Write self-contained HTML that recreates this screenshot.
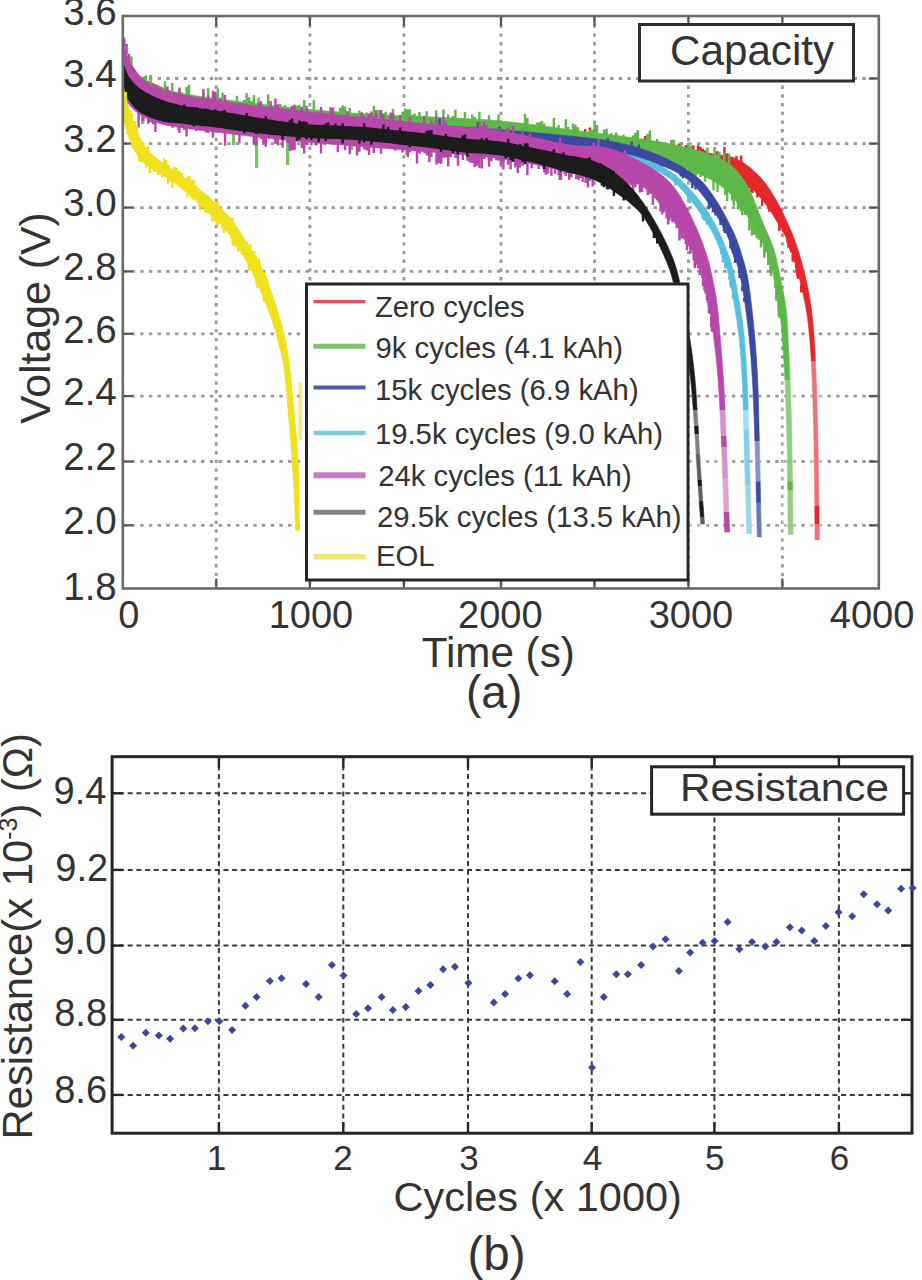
<!DOCTYPE html>
<html><head><meta charset="utf-8"><style>html,body{margin:0;padding:0;background:#fff;width:922px;height:1280px;overflow:hidden}svg{display:block}</style></head>
<body><svg width="922" height="1280" viewBox="0 0 922 1280"><defs><filter id="soft2" x="-2%" y="-2%" width="104%" height="104%"><feGaussianBlur stdDeviation="0.5"/></filter></defs>
<g id="top" filter="url(#soft2)">
<line x1="216.2" y1="16.0" x2="216.2" y2="588.5" stroke="#9a9a9a" stroke-width="2.8" stroke-dasharray="3.4 5.3"/>
<line x1="309.9" y1="16.0" x2="309.9" y2="588.5" stroke="#9a9a9a" stroke-width="2.8" stroke-dasharray="3.4 5.3"/>
<line x1="403.9" y1="16.0" x2="403.9" y2="588.5" stroke="#9a9a9a" stroke-width="2.8" stroke-dasharray="3.4 5.3"/>
<line x1="501.0" y1="16.0" x2="501.0" y2="588.5" stroke="#9a9a9a" stroke-width="2.8" stroke-dasharray="3.4 5.3"/>
<line x1="594.5" y1="16.0" x2="594.5" y2="588.5" stroke="#9a9a9a" stroke-width="2.8" stroke-dasharray="3.4 5.3"/>
<line x1="688.4" y1="16.0" x2="688.4" y2="588.5" stroke="#9a9a9a" stroke-width="2.8" stroke-dasharray="3.4 5.3"/>
<line x1="782.4" y1="16.0" x2="782.4" y2="588.5" stroke="#9a9a9a" stroke-width="2.8" stroke-dasharray="3.4 5.3"/>
<line x1="122.8" y1="78.5" x2="878.8" y2="78.5" stroke="#9a9a9a" stroke-width="2.8" stroke-dasharray="3.4 5.3"/>
<line x1="122.8" y1="143.6" x2="878.8" y2="143.6" stroke="#9a9a9a" stroke-width="2.8" stroke-dasharray="3.4 5.3"/>
<line x1="122.8" y1="207.6" x2="878.8" y2="207.6" stroke="#9a9a9a" stroke-width="2.8" stroke-dasharray="3.4 5.3"/>
<line x1="122.8" y1="271.4" x2="878.8" y2="271.4" stroke="#9a9a9a" stroke-width="2.8" stroke-dasharray="3.4 5.3"/>
<line x1="122.8" y1="333.8" x2="878.8" y2="333.8" stroke="#9a9a9a" stroke-width="2.8" stroke-dasharray="3.4 5.3"/>
<line x1="122.8" y1="396.1" x2="878.8" y2="396.1" stroke="#9a9a9a" stroke-width="2.8" stroke-dasharray="3.4 5.3"/>
<line x1="122.8" y1="461.5" x2="878.8" y2="461.5" stroke="#9a9a9a" stroke-width="2.8" stroke-dasharray="3.4 5.3"/>
<line x1="122.8" y1="525.3" x2="878.8" y2="525.3" stroke="#9a9a9a" stroke-width="2.8" stroke-dasharray="3.4 5.3"/>
<line x1="216.2" y1="588.5" x2="216.2" y2="578.5" stroke="#555" stroke-width="2.2"/>
<line x1="216.2" y1="16.0" x2="216.2" y2="26.0" stroke="#555" stroke-width="2.2"/>
<line x1="309.9" y1="588.5" x2="309.9" y2="578.5" stroke="#555" stroke-width="2.2"/>
<line x1="309.9" y1="16.0" x2="309.9" y2="26.0" stroke="#555" stroke-width="2.2"/>
<line x1="403.9" y1="588.5" x2="403.9" y2="578.5" stroke="#555" stroke-width="2.2"/>
<line x1="403.9" y1="16.0" x2="403.9" y2="26.0" stroke="#555" stroke-width="2.2"/>
<line x1="501.0" y1="588.5" x2="501.0" y2="578.5" stroke="#555" stroke-width="2.2"/>
<line x1="501.0" y1="16.0" x2="501.0" y2="26.0" stroke="#555" stroke-width="2.2"/>
<line x1="594.5" y1="588.5" x2="594.5" y2="578.5" stroke="#555" stroke-width="2.2"/>
<line x1="594.5" y1="16.0" x2="594.5" y2="26.0" stroke="#555" stroke-width="2.2"/>
<line x1="688.4" y1="588.5" x2="688.4" y2="578.5" stroke="#555" stroke-width="2.2"/>
<line x1="688.4" y1="16.0" x2="688.4" y2="26.0" stroke="#555" stroke-width="2.2"/>
<line x1="782.4" y1="588.5" x2="782.4" y2="578.5" stroke="#555" stroke-width="2.2"/>
<line x1="782.4" y1="16.0" x2="782.4" y2="26.0" stroke="#555" stroke-width="2.2"/>
<line x1="122.8" y1="78.5" x2="132.8" y2="78.5" stroke="#555" stroke-width="2.2"/>
<line x1="878.8" y1="78.5" x2="868.8" y2="78.5" stroke="#555" stroke-width="2.2"/>
<line x1="122.8" y1="143.6" x2="132.8" y2="143.6" stroke="#555" stroke-width="2.2"/>
<line x1="878.8" y1="143.6" x2="868.8" y2="143.6" stroke="#555" stroke-width="2.2"/>
<line x1="122.8" y1="207.6" x2="132.8" y2="207.6" stroke="#555" stroke-width="2.2"/>
<line x1="878.8" y1="207.6" x2="868.8" y2="207.6" stroke="#555" stroke-width="2.2"/>
<line x1="122.8" y1="271.4" x2="132.8" y2="271.4" stroke="#555" stroke-width="2.2"/>
<line x1="878.8" y1="271.4" x2="868.8" y2="271.4" stroke="#555" stroke-width="2.2"/>
<line x1="122.8" y1="333.8" x2="132.8" y2="333.8" stroke="#555" stroke-width="2.2"/>
<line x1="878.8" y1="333.8" x2="868.8" y2="333.8" stroke="#555" stroke-width="2.2"/>
<line x1="122.8" y1="396.1" x2="132.8" y2="396.1" stroke="#555" stroke-width="2.2"/>
<line x1="878.8" y1="396.1" x2="868.8" y2="396.1" stroke="#555" stroke-width="2.2"/>
<line x1="122.8" y1="461.5" x2="132.8" y2="461.5" stroke="#555" stroke-width="2.2"/>
<line x1="878.8" y1="461.5" x2="868.8" y2="461.5" stroke="#555" stroke-width="2.2"/>
<line x1="122.8" y1="525.3" x2="132.8" y2="525.3" stroke="#555" stroke-width="2.2"/>
<line x1="878.8" y1="525.3" x2="868.8" y2="525.3" stroke="#555" stroke-width="2.2"/>
</g>
<defs><filter id="soft" x="-5%" y="-5%" width="110%" height="110%"><feGaussianBlur stdDeviation="0.55"/></filter></defs>
<g id="curves" filter="url(#soft)">
<path d="M123.0,48.0 L124.2,50.8 L125.3,53.7 L126.4,56.6 L127.5,59.4 L128.8,62.2 L130.2,65.0 L131.9,67.9 L133.6,70.8 L135.5,73.7 L137.6,76.5 L139.9,79.1 L142.5,81.5 L146.1,84.1 L150.1,86.4 L154.4,88.5 L159.2,90.5 L164.2,92.3 L169.5,94.0 L177.4,96.2 L186.1,98.0 L195.4,99.6 L205.2,101.0 L215.3,102.4 L225.8,103.8 L239.5,105.5 L254.2,107.1 L269.4,108.6 L285.1,110.1 L300.8,111.4 L316.5,112.8 L333.2,114.1 L350.3,115.3 L367.6,116.4 L384.7,117.5 L401.5,118.5 L417.5,119.5 L430.8,120.3 L444.0,121.1 L456.8,121.8 L469.2,122.6 L481.1,123.4 L492.5,124.2 L501.1,125.0 L509.3,125.9 L517.2,126.8 L524.9,127.7 L532.4,128.6 L540.0,129.5 L546.8,130.4 L553.5,131.2 L560.0,132.1 L566.6,133.0 L573.2,133.9 L580.0,134.8 L587.5,135.6 L595.1,136.5 L602.8,137.3 L610.6,138.2 L618.3,139.1 L626.0,140.0 L633.8,141.0 L641.7,142.0 L649.6,143.0 L657.4,144.1 L664.9,145.2 L672.0,146.2 L677.4,147.1 L682.7,148.1 L687.8,149.0 L692.7,149.9 L697.4,150.8 L701.8,151.6 L705.1,152.2 L708.1,152.7 L711.1,153.2 L713.9,153.7 L716.7,154.2 L719.4,154.6 L721.6,155.0 L723.7,155.3 L725.8,155.6 L727.8,155.9 L729.8,156.3 L731.8,156.9 L733.7,157.6 L735.5,158.4 L737.3,159.2 L739.1,160.2 L740.9,161.2 L742.7,162.3 L744.8,163.7 L746.9,165.2 L749.0,166.8 L751.1,168.5 L753.1,170.2 L755.0,171.9 L756.8,173.6 L758.6,175.4 L760.4,177.2 L762.0,179.1 L763.6,180.9 L765.1,182.8 L766.5,184.6 L767.8,186.4 L769.0,188.2 L770.2,190.1 L771.4,191.9 L772.5,193.8 L773.6,195.6 L774.7,197.4 L775.8,199.2 L776.8,201.0 L777.8,202.9 L778.8,204.7 L779.8,206.5 L780.7,208.3 L781.6,210.1 L782.5,212.0 L783.4,213.8 L784.3,215.6 L785.1,217.4 L786.0,219.3 L786.8,221.1 L787.6,222.9 L788.4,224.7 L789.2,226.6 L790.0,228.4 L790.8,230.2 L791.6,232.0 L792.4,233.9 L793.1,235.7 L793.8,237.5 L794.5,239.3 L795.2,241.2 L795.9,243.0 L796.5,244.8 L797.1,246.6 L797.7,248.5 L798.3,250.3 L798.8,252.1 L799.4,253.9 L799.9,255.8 L800.5,257.6 L801.0,259.4 L801.5,261.3 L802.0,263.1 L802.5,264.9 L803.0,266.7 L803.5,268.6 L804.0,270.4 L804.4,272.1 L804.8,273.8 L805.2,275.5 L805.6,277.2 L806.0,279.0 L806.4,280.8 L806.8,282.8 L807.3,284.8 L807.7,286.8 L808.2,288.9 L808.6,291.1 L809.0,293.4 L809.6,296.7 L810.2,300.1 L810.7,303.6 L811.2,307.3 L811.7,311.1 L812.2,315.0 L812.7,319.7 L813.2,324.5 L813.6,329.5 L814.0,334.7 L814.4,339.8 L814.7,345.0 L815.0,350.7 L815.3,356.3 L815.6,362.1 L815.8,368.0 L816.1,373.9 L816.3,380.1 L816.6,387.1 L816.8,394.3 L817.0,401.6 L817.2,409.1 L817.4,416.7 L817.6,424.4 L817.8,433.3 L818.0,442.4 L818.2,451.7 L818.4,461.1 L818.5,470.5 L818.7,480.0 L818.8,489.9 L819.0,499.8 L819.1,509.9 L819.2,519.9 L819.4,530.0 L819.5,540.0 L815.0,540.0 L814.9,530.0 L814.8,519.9 L814.7,509.9 L814.6,499.8 L814.5,489.9 L814.4,480.0 L814.3,470.5 L814.2,461.1 L814.0,451.7 L813.9,442.4 L813.7,433.3 L813.5,424.4 L813.3,416.7 L813.1,409.1 L812.9,401.6 L812.6,394.3 L812.3,387.1 L812.1,380.1 L811.8,373.9 L811.5,368.0 L811.2,362.1 L810.9,356.3 L810.5,350.7 L810.1,345.0 L809.7,339.8 L809.2,334.7 L808.7,329.5 L808.2,324.5 L807.6,319.7 L807.0,315.0 L806.3,311.1 L805.7,307.3 L805.0,303.6 L804.3,300.1 L803.6,296.7 L802.9,293.4 L802.4,291.1 L801.9,288.9 L801.3,286.8 L800.8,284.8 L800.3,282.8 L799.8,280.8 L799.4,279.0 L799.0,277.2 L798.6,275.5 L798.2,273.8 L797.8,272.1 L797.3,270.4 L796.9,268.6 L796.4,266.7 L795.9,264.9 L795.4,263.1 L794.9,261.2 L794.4,259.4 L793.8,257.6 L793.2,255.7 L792.7,253.9 L792.0,252.1 L791.4,250.3 L790.8,248.5 L790.1,246.7 L789.4,245.0 L788.7,243.3 L787.9,241.7 L787.2,240.0 L786.4,238.4 L785.6,236.8 L784.8,235.3 L783.9,233.8 L783.1,232.4 L782.2,230.9 L781.4,229.4 L780.5,227.8 L779.6,226.3 L778.7,224.7 L777.7,223.1 L776.8,221.6 L775.9,220.0 L774.9,218.4 L774.0,216.8 L773.0,215.2 L772.0,213.6 L771.0,212.0 L770.0,210.5 L769.0,209.1 L768.0,207.7 L767.0,206.3 L766.0,205.0 L765.0,203.6 L763.9,202.2 L762.8,200.8 L761.6,199.4 L760.4,197.9 L759.2,196.4 L757.9,195.0 L756.6,193.5 L755.1,191.8 L753.7,190.2 L752.1,188.5 L750.6,186.8 L749.0,185.1 L747.4,183.5 L745.9,182.0 L744.3,180.5 L742.7,179.1 L741.1,177.7 L739.5,176.3 L738.0,175.0 L736.7,173.8 L735.5,172.6 L734.3,171.4 L733.1,170.3 L731.9,169.2 L730.5,168.2 L729.0,167.3 L727.6,166.5 L726.0,165.7 L724.4,164.9 L722.5,164.2 L720.2,163.5 L714.7,162.1 L708.0,160.8 L700.3,159.6 L691.9,158.5 L683.0,157.3 L673.8,156.0 L658.6,153.8 L641.9,151.5 L623.8,149.1 L605.1,146.7 L586.0,144.4 L567.0,142.2 L545.7,140.1 L523.8,138.0 L501.4,136.1 L478.9,134.3 L456.6,132.6 L434.8,131.0 L414.2,129.7 L393.8,128.8 L373.5,127.9 L353.4,126.9 L333.7,125.6 L314.2,123.8 L296.5,121.7 L279.0,119.5 L261.8,117.1 L244.8,114.2 L228.1,110.7 L211.8,106.5 L196.4,101.5 L181.5,95.8 L166.8,89.5 L152.2,82.9 L137.7,76.3 L123.0,70.0Z" fill="#e5262b" opacity="1" stroke="#e5262b" stroke-width="0.4" stroke-linejoin="round"/>
<path d="M801.2,289.1h2.4v3.5h-2.4zM800.0,284.4h2.4v7.9h-2.4zM797.2,272.8h2.4v5.3h-2.4zM796.7,270.4h2.4v8.7h-2.4zM796.1,268.1h2.4v7.9h-2.4zM795.5,265.8h2.4v6.9h-2.4zM794.9,263.5h2.4v5.0h-2.4zM793.6,258.8h2.4v3.6h-2.4zM791.5,252.0h2.4v9.4h-2.4zM789.9,247.4h2.4v5.2h-2.4zM789.0,245.2h2.4v4.5h-2.4zM787.2,240.7h2.4v7.0h-2.4zM786.2,238.6h2.4v3.9h-2.4zM778.1,223.8h2.4v7.2h-2.4zM768.1,207.5h2.4v4.2h-2.4zM760.9,197.9h2.4v8.0h-2.4zM756.2,192.4h2.4v5.2h-2.4zM751.4,187.0h2.4v5.9h-2.4zM749.8,185.2h2.4v7.0h-2.4zM748.2,183.5h2.4v4.4h-2.4zM746.5,181.8h2.4v6.5h-2.4zM744.8,180.1h2.4v5.4h-2.4zM743.0,178.5h2.4v4.4h-2.4zM734.1,170.4h2.4v8.8h-2.4zM730.6,167.2h2.4v7.4h-2.4zM726.6,164.6h2.4v4.3h-2.4zM722.2,162.6h2.4v4.2h-2.4zM719.9,161.8h2.4v3.5h-2.4zM708.3,159.1h2.4v4.6h-2.4z" fill="#e5262b" opacity="1"/>
<path d="M574.4,130.4h2.4v6.9h-2.4zM581.6,132.6h2.4v5.5h-2.4zM584.0,128.9h2.4v9.5h-2.4zM588.8,127.6h2.4v11.3h-2.4zM598.4,135.3h2.4v4.5h-2.4zM603.2,135.3h2.4v5.0h-2.4zM605.6,136.0h2.4v4.5h-2.4zM641.6,139.2h2.4v5.5h-2.4zM644.0,135.9h2.4v9.1h-2.4zM658.4,141.7h2.4v5.1h-2.4zM670.4,140.5h2.4v7.8h-2.4zM677.6,143.5h2.4v5.7h-2.4zM684.8,145.0h2.4v5.2h-2.4zM687.2,146.4h2.4v4.6h-2.4zM692.0,145.2h2.4v7.3h-2.4zM696.8,145.3h2.4v8.7h-2.4zM699.2,146.8h2.4v8.0h-2.4zM701.6,149.0h2.4v6.3h-2.4zM704.0,150.2h2.4v5.4h-2.4zM716.0,151.3h2.4v6.1h-2.4zM723.2,147.1h2.4v11.4h-2.4zM725.6,153.2h2.4v5.3h-2.4zM735.2,156.0h2.4v4.6h-2.4zM740.0,155.4h2.4v7.6h-2.4z" fill="#e5262b" opacity="1"/>
<path d="M123.0,44.0 L124.2,47.1 L125.2,50.2 L126.3,53.3 L127.5,56.3 L128.8,59.3 L130.2,62.2 L131.9,65.2 L133.6,68.1 L135.5,71.0 L137.5,73.8 L139.9,76.4 L142.5,78.8 L146.1,81.3 L150.1,83.5 L154.5,85.4 L159.2,87.2 L164.2,88.9 L169.5,90.5 L177.5,92.5 L186.4,94.3 L195.8,95.7 L205.7,97.1 L215.7,98.4 L225.8,99.8 L237.3,101.3 L249.4,102.8 L261.6,104.3 L274.0,105.7 L286.3,107.0 L298.2,108.2 L309.3,109.3 L320.2,110.4 L331.1,111.3 L341.8,112.2 L352.6,113.0 L363.5,113.8 L374.5,114.4 L385.4,114.9 L396.4,115.4 L407.4,115.8 L418.4,116.2 L429.2,116.8 L440.0,117.3 L450.8,117.8 L461.5,118.3 L472.1,118.9 L482.5,119.5 L492.5,120.2 L500.9,121.0 L509.0,121.8 L516.9,122.7 L524.7,123.6 L532.4,124.6 L540.0,125.5 L546.8,126.4 L553.5,127.3 L560.0,128.2 L566.6,129.2 L573.2,130.1 L580.0,131.0 L587.5,131.9 L595.1,132.9 L602.8,133.8 L610.6,134.7 L618.3,135.7 L626.0,136.8 L633.8,137.9 L641.8,139.0 L649.7,140.2 L657.5,141.5 L665.0,142.8 L672.0,144.2 L677.2,145.3 L682.2,146.4 L687.1,147.6 L691.7,148.9 L696.1,150.1 L700.2,151.3 L703.1,152.2 L705.9,153.1 L708.5,154.0 L711.0,154.9 L713.5,155.9 L715.9,156.9 L718.2,157.9 L720.4,158.9 L722.6,159.9 L724.7,161.0 L726.8,162.2 L728.8,163.5 L730.5,164.8 L732.2,166.2 L733.8,167.7 L735.4,169.3 L736.9,170.8 L738.4,172.4 L739.7,174.1 L741.0,175.8 L742.3,177.5 L743.5,179.3 L744.6,181.1 L745.7,182.9 L746.8,184.6 L747.8,186.4 L748.7,188.3 L749.7,190.1 L750.5,191.9 L751.4,193.8 L752.2,195.6 L753.0,197.4 L753.7,199.2 L754.4,201.0 L755.1,202.9 L755.8,204.7 L756.5,206.5 L757.2,208.3 L757.9,210.2 L758.5,212.0 L759.2,213.8 L760.0,215.6 L760.7,217.5 L761.5,219.3 L762.3,221.1 L763.0,222.9 L763.8,224.8 L764.6,226.6 L765.4,228.4 L766.2,230.2 L767.0,232.0 L767.8,233.9 L768.6,235.7 L769.4,237.5 L770.1,239.3 L770.8,241.2 L771.6,243.0 L772.2,244.8 L772.9,246.6 L773.5,248.5 L774.1,250.3 L774.6,252.1 L775.1,253.9 L775.6,255.8 L776.1,257.6 L776.5,259.4 L777.0,261.2 L777.4,263.1 L777.7,264.9 L778.1,266.7 L778.5,268.5 L778.9,270.4 L779.3,272.3 L779.7,274.2 L780.0,276.1 L780.4,278.0 L780.8,280.0 L781.2,282.0 L781.7,284.2 L782.2,286.5 L782.7,288.7 L783.2,291.1 L783.7,293.5 L784.1,295.9 L784.6,299.1 L785.1,302.3 L785.6,305.6 L786.0,309.1 L786.5,312.6 L786.8,316.2 L787.2,320.7 L787.5,325.4 L787.8,330.1 L788.0,335.0 L788.2,340.0 L788.4,345.0 L788.7,350.6 L789.0,356.1 L789.2,361.8 L789.5,367.6 L789.7,373.7 L790.0,380.0 L790.3,388.7 L790.7,397.8 L791.0,407.2 L791.3,417.1 L791.6,427.3 L791.8,438.0 L792.1,452.7 L792.3,468.4 L792.5,484.7 L792.7,501.4 L792.9,518.1 L793.1,534.5 L788.2,534.5 L788.0,518.1 L787.9,501.4 L787.7,484.7 L787.5,468.4 L787.3,452.7 L787.0,438.0 L786.7,427.3 L786.4,417.1 L786.1,407.2 L785.7,397.8 L785.3,388.7 L784.9,380.1 L784.6,373.7 L784.3,367.6 L783.9,361.8 L783.5,356.2 L783.1,350.6 L782.7,345.0 L782.4,339.8 L782.0,334.7 L781.6,329.5 L781.2,324.5 L780.7,319.7 L780.2,315.0 L779.7,311.1 L779.2,307.3 L778.6,303.6 L778.0,300.1 L777.5,296.7 L776.9,293.4 L776.5,291.1 L776.0,288.9 L775.6,286.8 L775.2,284.8 L774.7,282.8 L774.3,280.8 L774.0,279.0 L773.6,277.2 L773.3,275.5 L773.0,273.8 L772.6,272.1 L772.3,270.4 L771.9,268.6 L771.5,266.7 L771.1,264.9 L770.7,263.1 L770.2,261.2 L769.6,259.4 L769.0,257.6 L768.4,255.7 L767.6,253.9 L766.9,252.1 L766.1,250.3 L765.3,248.5 L764.4,246.6 L763.5,244.8 L762.6,243.0 L761.6,241.2 L760.6,239.3 L759.7,237.5 L758.8,235.7 L757.9,233.9 L757.0,232.0 L756.1,230.2 L755.1,228.4 L754.1,226.6 L753.0,224.7 L751.8,222.9 L750.6,221.1 L749.4,219.2 L748.1,217.4 L746.9,215.6 L745.6,213.8 L744.2,212.0 L742.9,210.1 L741.5,208.3 L740.1,206.5 L738.7,204.7 L737.4,202.9 L736.0,201.0 L734.7,199.2 L733.3,197.3 L731.8,195.5 L730.2,193.8 L728.1,191.8 L725.9,189.8 L723.6,187.9 L721.1,186.0 L718.4,184.2 L715.6,182.4 L711.8,180.1 L707.7,177.9 L703.3,175.8 L698.7,173.7 L693.8,171.7 L688.7,169.7 L681.6,167.2 L674.1,164.8 L666.1,162.4 L657.8,160.2 L649.3,158.0 L640.6,156.0 L629.9,153.8 L618.7,151.7 L607.2,149.8 L595.5,148.0 L583.7,146.4 L572.0,145.0 L560.2,143.8 L548.3,142.7 L536.3,141.9 L524.3,141.2 L512.1,140.5 L499.8,139.8 L486.5,139.0 L473.1,138.4 L459.5,137.9 L445.8,137.3 L431.8,136.7 L417.5,136.0 L400.9,135.1 L383.8,134.0 L366.3,132.9 L348.8,131.8 L331.3,130.5 L314.2,129.2 L298.0,128.0 L281.5,126.6 L265.2,125.2 L249.3,123.7 L234.0,122.1 L219.8,120.5 L209.2,119.3 L199.0,118.3 L189.2,117.2 L179.9,115.9 L171.3,114.2 L163.5,112.0 L158.4,110.1 L153.7,108.1 L149.3,105.9 L145.2,103.5 L141.5,100.7 L138.0,97.5 L134.8,93.7 L132.1,89.3 L129.8,84.5 L127.6,79.6 L125.4,74.7 L123.0,70.0Z" fill="#5db748" opacity="1" stroke="#5db748" stroke-width="0.6" stroke-linejoin="round"/>
<path d="M779.1,314.3h2.4v3.5h-2.4zM778.5,309.6h2.4v4.0h-2.4zM777.9,304.8h2.4v12.7h-2.4zM777.5,302.4h2.4v13.8h-2.4zM777.2,300.1h2.4v8.6h-2.4zM775.1,288.2h2.4v12.6h-2.4zM774.1,283.5h2.4v4.4h-2.4zM769.8,262.4h2.4v13.8h-2.4zM769.2,260.0h2.4v11.1h-2.4zM767.0,253.2h2.4v11.7h-2.4zM765.1,248.8h2.4v3.6h-2.4zM763.1,244.4h2.4v13.3h-2.4zM759.8,238.0h2.4v9.4h-2.4zM757.6,233.8h2.4v6.0h-2.4zM755.5,229.4h2.4v8.6h-2.4zM753.3,225.2h2.4v9.6h-2.4zM750.8,221.1h2.4v14.4h-2.4zM749.4,219.1h2.4v6.6h-2.4zM748.1,217.1h2.4v13.4h-2.4zM744.0,211.2h2.4v3.8h-2.4zM741.1,207.4h2.4v7.9h-2.4zM739.6,205.5h2.4v5.6h-2.4zM738.2,203.5h2.4v4.4h-2.4zM736.7,201.6h2.4v7.8h-2.4zM732.5,195.8h2.4v9.9h-2.4zM731.0,194.0h2.4v6.4h-2.4zM725.9,188.9h2.4v12.1h-2.4zM724.1,187.3h2.4v7.7h-2.4zM716.3,181.6h2.4v10.3h-2.4zM712.3,179.1h2.4v11.1h-2.4zM703.8,174.6h2.4v7.4h-2.4zM699.4,172.6h2.4v4.3h-2.4zM695.0,170.7h2.4v5.0h-2.4zM692.8,169.8h2.4v14.0h-2.4zM690.6,168.9h2.4v3.9h-2.4zM688.3,168.0h2.4v4.9h-2.4zM683.8,166.4h2.4v5.1h-2.4zM681.5,165.6h2.4v7.0h-2.4zM679.3,164.8h2.4v5.7h-2.4zM670.1,161.9h2.4v6.1h-2.4zM665.5,160.6h2.4v4.5h-2.4zM663.2,159.9h2.4v6.1h-2.4zM656.3,158.1h2.4v4.9h-2.4zM653.9,157.5h2.4v5.0h-2.4zM651.6,156.9h2.4v9.5h-2.4zM649.3,156.3h2.4v12.7h-2.4zM644.6,155.2h2.4v7.4h-2.4zM639.9,154.1h2.4v7.2h-2.4zM637.6,153.6h2.4v10.9h-2.4zM635.2,153.1h2.4v9.0h-2.4zM628.2,151.7h2.4v7.8h-2.4zM625.8,151.2h2.4v5.7h-2.4zM618.7,149.9h2.4v6.1h-2.4zM614.0,149.1h2.4v11.4h-2.4z" fill="#5db748" opacity="1"/>
<path d="M123.0,37.5h2.4v9.5h-2.4zM130.2,56.4h2.4v10.7h-2.4zM139.8,79.2h2.4v4.5h-2.4zM142.2,76.7h2.4v8.3h-2.4zM144.6,75.5h2.4v10.7h-2.4zM147.0,82.0h2.4v5.4h-2.4zM149.4,75.0h2.4v13.5h-2.4zM159.0,87.0h2.4v6.0h-2.4zM163.8,81.6h2.4v12.8h-2.4zM166.2,89.8h2.4v5.0h-2.4zM171.0,83.0h2.4v12.5h-2.4zM178.2,89.2h2.4v7.3h-2.4zM180.6,92.3h2.4v4.5h-2.4zM185.4,87.0h2.4v10.6h-2.4zM187.8,84.8h2.4v13.1h-2.4zM202.2,92.7h2.4v7.2h-2.4zM207.0,88.3h2.4v12.4h-2.4zM211.8,95.1h2.4v6.3h-2.4zM216.6,88.6h2.4v13.4h-2.4zM219.0,97.8h2.4v4.5h-2.4zM221.4,92.8h2.4v9.8h-2.4zM235.8,95.7h2.4v8.6h-2.4zM243.0,100.1h2.4v5.0h-2.4zM245.4,93.0h2.4v12.5h-2.4zM247.8,97.3h2.4v8.4h-2.4zM250.2,101.3h2.4v4.7h-2.4zM252.6,95.3h2.4v11.0h-2.4zM257.4,97.5h2.4v9.4h-2.4zM267.0,94.6h2.4v13.3h-2.4zM279.0,103.9h2.4v5.5h-2.4zM283.8,105.3h2.4v4.6h-2.4zM295.8,105.8h2.4v5.5h-2.4zM298.2,104.9h2.4v6.7h-2.4zM300.6,107.3h2.4v4.6h-2.4zM303.0,100.1h2.4v12.1h-2.4zM312.6,100.3h2.4v12.9h-2.4zM319.8,108.6h2.4v5.3h-2.4zM339.0,107.7h2.4v7.8h-2.4zM341.4,105.3h2.4v10.4h-2.4zM343.8,106.5h2.4v9.4h-2.4zM348.6,107.9h2.4v8.4h-2.4zM358.2,110.4h2.4v6.6h-2.4zM365.4,112.6h2.4v4.7h-2.4zM367.8,112.9h2.4v4.5h-2.4zM372.6,106.0h2.4v11.7h-2.4zM377.4,110.0h2.4v7.8h-2.4zM379.8,110.5h2.4v7.4h-2.4zM382.2,113.0h2.4v5.0h-2.4zM384.6,111.7h2.4v6.4h-2.4zM391.8,108.7h2.4v9.7h-2.4zM401.4,111.7h2.4v7.1h-2.4zM403.8,108.6h2.4v10.3h-2.4zM406.2,109.3h2.4v9.7h-2.4zM408.6,109.6h2.4v9.5h-2.4zM411.0,114.7h2.4v4.6h-2.4zM413.4,113.4h2.4v5.9h-2.4zM418.2,112.0h2.4v7.5h-2.4zM425.4,111.3h2.4v8.5h-2.4zM435.0,110.6h2.4v9.6h-2.4zM442.2,109.4h2.4v11.0h-2.4zM447.0,114.5h2.4v5.9h-2.4zM451.8,116.0h2.4v4.6h-2.4zM454.2,109.7h2.4v11.0h-2.4zM463.8,112.0h2.4v9.0h-2.4zM471.0,114.6h2.4v6.6h-2.4zM473.4,116.7h2.4v4.6h-2.4zM478.2,111.7h2.4v9.6h-2.4zM487.8,115.2h2.4v6.5h-2.4zM497.4,114.6h2.4v7.3h-2.4zM523.8,113.8h2.4v12.3h-2.4zM526.2,118.0h2.4v8.6h-2.4zM535.8,122.4h2.4v5.9h-2.4zM538.2,122.2h2.4v6.5h-2.4zM540.6,121.1h2.4v8.0h-2.4zM543.0,123.5h2.4v5.8h-2.4zM552.6,117.7h2.4v12.9h-2.4zM557.4,125.1h2.4v6.1h-2.4zM564.6,119.3h2.4v12.8h-2.4zM567.0,126.9h2.4v5.5h-2.4zM571.8,123.6h2.4v9.4h-2.4zM574.2,124.8h2.4v8.5h-2.4zM576.6,127.2h2.4v6.4h-2.4zM588.6,130.0h2.4v5.1h-2.4zM591.0,129.8h2.4v5.6h-2.4zM593.4,122.7h2.4v12.9h-2.4zM595.8,125.0h2.4v10.9h-2.4zM603.0,129.4h2.4v7.5h-2.4zM605.4,128.6h2.4v8.6h-2.4zM610.2,133.3h2.4v4.5h-2.4zM615.0,132.5h2.4v5.9h-2.4zM622.2,134.4h2.4v4.9h-2.4zM631.8,135.4h2.4v5.1h-2.4zM634.2,132.8h2.4v8.0h-2.4zM636.6,130.2h2.4v10.8h-2.4zM646.2,134.0h2.4v8.3h-2.4zM648.6,130.5h2.4v12.1h-2.4zM655.8,138.9h2.4v4.6h-2.4zM670.2,139.7h2.4v5.6h-2.4zM672.6,139.8h2.4v5.8h-2.4zM679.8,141.9h2.4v4.6h-2.4zM687.0,143.0h2.4v5.6h-2.4zM689.4,145.4h2.4v4.5h-2.4zM699.0,150.4h2.4v4.7h-2.4zM706.2,147.4h2.4v9.5h-2.4zM713.4,147.1h2.4v11.1h-2.4zM715.8,154.2h2.4v4.6h-2.4zM718.2,151.8h2.4v7.8h-2.4zM723.0,152.6h2.4v9.7h-2.4zM727.8,153.6h2.4v11.5h-2.4z" fill="#5db748" opacity="1"/>
<rect x="141" y="104" width="3.2" height="20" fill="#5db748" opacity="0.85"/>
<rect x="171" y="118" width="3.2" height="10" fill="#5db748" opacity="0.85"/>
<rect x="177" y="116" width="3.2" height="14" fill="#5db748" opacity="0.85"/>
<rect x="255" y="130" width="3.2" height="38" fill="#5db748" opacity="0.85"/>
<rect x="286" y="136" width="3.2" height="29" fill="#5db748" opacity="0.85"/>
<rect x="232" y="126" width="3.2" height="19" fill="#5db748" opacity="0.85"/>
<rect x="350" y="140" width="3.2" height="10" fill="#5db748" opacity="0.85"/>
<rect x="405" y="144" width="3.2" height="11" fill="#5db748" opacity="0.85"/>
<rect x="536" y="150" width="3.2" height="10" fill="#5db748" opacity="0.85"/>
<path d="M123.0,48.0 L124.2,50.8 L125.3,53.7 L126.4,56.6 L127.5,59.4 L128.8,62.2 L130.2,65.0 L131.9,67.9 L133.6,70.8 L135.5,73.7 L137.6,76.5 L139.9,79.1 L142.5,81.5 L146.1,84.1 L150.1,86.4 L154.5,88.5 L159.2,90.4 L164.2,92.2 L169.5,94.0 L177.5,96.2 L186.1,98.2 L195.4,99.9 L205.2,101.4 L215.3,102.9 L225.8,104.5 L239.5,106.5 L254.2,108.4 L269.4,110.2 L285.1,112.0 L300.8,113.6 L316.5,115.2 L333.1,116.9 L350.1,118.4 L367.3,119.8 L384.4,121.2 L401.2,122.5 L417.5,123.8 L431.8,124.8 L445.9,125.8 L459.8,126.8 L473.4,127.8 L486.7,128.7 L499.8,129.8 L511.1,130.7 L522.2,131.6 L533.1,132.5 L543.8,133.4 L554.3,134.4 L564.5,135.5 L573.3,136.4 L582.0,137.3 L590.5,138.3 L598.8,139.3 L606.9,140.6 L614.8,142.0 L621.5,143.5 L628.0,145.0 L634.4,146.7 L640.7,148.6 L646.8,150.6 L652.7,152.8 L658.2,155.0 L663.7,157.3 L669.0,159.9 L674.2,162.5 L679.0,165.1 L683.6,167.8 L687.0,169.9 L690.3,172.1 L693.4,174.3 L696.3,176.5 L699.0,178.7 L701.5,181.0 L703.3,182.8 L704.9,184.6 L706.3,186.4 L707.7,188.2 L709.0,190.1 L710.4,191.9 L711.7,193.7 L713.0,195.5 L714.2,197.3 L715.4,199.2 L716.6,201.0 L717.8,202.8 L718.9,204.6 L720.0,206.5 L721.0,208.3 L722.1,210.1 L723.1,211.9 L724.1,213.8 L725.1,215.6 L726.1,217.4 L727.0,219.2 L728.0,221.0 L728.9,222.9 L729.8,224.7 L730.7,226.5 L731.6,228.3 L732.5,230.1 L733.4,232.0 L734.2,233.8 L735.0,235.6 L735.8,237.4 L736.5,239.2 L737.2,241.1 L737.9,242.9 L738.5,244.7 L739.2,246.6 L739.8,248.5 L740.4,250.3 L741.0,252.2 L741.6,254.2 L742.1,256.1 L742.7,258.0 L743.3,259.9 L743.9,261.9 L744.4,263.8 L745.0,265.8 L745.5,267.8 L746.1,269.9 L746.6,272.4 L747.2,275.0 L747.7,277.7 L748.2,280.5 L748.6,283.4 L749.1,286.4 L749.7,290.4 L750.3,294.6 L750.8,299.0 L751.3,303.6 L751.8,308.2 L752.4,312.8 L752.9,318.0 L753.5,323.3 L754.0,328.6 L754.5,334.1 L755.0,339.5 L755.5,345.0 L755.9,350.7 L756.3,356.3 L756.7,361.9 L757.0,367.7 L757.4,373.7 L757.7,380.1 L758.0,388.8 L758.3,397.9 L758.6,407.5 L758.8,417.4 L759.0,427.8 L759.3,438.6 L759.6,453.5 L760.0,469.5 L760.3,486.2 L760.6,503.2 L761.0,520.2 L761.3,536.9 L757.3,536.9 L756.9,520.2 L756.5,503.2 L756.1,486.2 L755.7,469.5 L755.3,453.5 L754.8,438.6 L754.5,427.8 L754.1,417.4 L753.7,407.5 L753.3,397.9 L752.9,388.8 L752.4,380.0 L752.0,373.7 L751.6,367.7 L751.2,361.9 L750.8,356.3 L750.3,350.7 L749.8,345.0 L749.3,339.5 L748.7,334.1 L748.1,328.6 L747.5,323.3 L746.9,318.0 L746.2,312.8 L745.5,308.2 L744.9,303.6 L744.2,299.0 L743.5,294.6 L742.8,290.4 L742.1,286.4 L741.5,283.4 L741.0,280.5 L740.4,277.7 L739.8,275.0 L739.2,272.4 L738.6,269.9 L738.1,267.8 L737.5,265.8 L737.0,263.8 L736.4,261.9 L735.8,259.9 L735.2,258.0 L734.6,256.1 L733.9,254.2 L733.3,252.2 L732.7,250.3 L732.0,248.5 L731.3,246.6 L730.7,244.7 L730.0,242.9 L729.3,241.1 L728.7,239.2 L727.9,237.4 L727.2,235.6 L726.4,233.8 L725.5,232.0 L724.6,230.1 L723.7,228.3 L722.8,226.5 L721.9,224.7 L720.9,222.9 L719.8,221.0 L718.7,219.2 L717.6,217.4 L716.5,215.6 L715.4,213.8 L714.2,211.9 L713.1,210.1 L711.9,208.3 L710.7,206.4 L709.4,204.6 L708.2,202.8 L706.9,201.0 L705.5,199.1 L704.2,197.3 L702.8,195.5 L701.4,193.7 L699.9,191.9 L698.3,190.0 L696.6,188.2 L695.0,186.3 L693.2,184.5 L691.4,182.7 L689.4,181.0 L687.1,179.1 L684.6,177.3 L682.0,175.6 L679.3,173.9 L676.5,172.3 L673.5,170.8 L669.9,169.0 L666.1,167.4 L662.2,165.9 L658.0,164.5 L653.8,163.1 L649.4,161.8 L644.1,160.2 L638.7,158.8 L633.0,157.4 L627.2,156.1 L621.1,154.9 L614.9,153.8 L607.1,152.5 L599.1,151.3 L590.7,150.2 L582.2,149.2 L573.4,148.2 L564.5,147.2 L554.3,146.2 L543.8,145.3 L533.1,144.5 L522.2,143.6 L511.1,142.8 L499.8,142.0 L486.7,141.1 L473.4,140.2 L459.8,139.3 L446.0,138.4 L431.9,137.5 L417.5,136.5 L401.0,135.5 L383.9,134.6 L366.5,133.7 L349.0,132.6 L331.5,131.1 L314.2,129.2 L297.0,127.0 L279.6,124.7 L262.3,121.9 L245.1,118.8 L228.2,115.0 L211.8,110.5 L196.4,105.2 L181.4,99.2 L166.8,92.5 L152.2,85.6 L137.7,78.6 L123.0,72.0Z" fill="#3b48a3" opacity="1" stroke="#3b48a3" stroke-width="0.6" stroke-linejoin="round"/>
<path d="M743.1,297.8h2.4v3.9h-2.4zM741.1,286.0h2.4v5.0h-2.4zM738.4,271.9h2.4v6.1h-2.4zM737.8,269.5h2.4v3.5h-2.4zM734.6,258.0h2.4v3.6h-2.4zM733.9,255.7h2.4v7.4h-2.4zM733.1,253.4h2.4v3.8h-2.4zM732.4,251.1h2.4v3.5h-2.4zM731.6,248.8h2.4v4.3h-2.4zM730.8,246.6h2.4v4.2h-2.4zM729.2,242.0h2.4v6.4h-2.4zM723.7,228.7h2.4v4.3h-2.4zM722.7,226.6h2.4v4.5h-2.4zM719.3,220.2h2.4v4.8h-2.4zM714.3,212.0h2.4v3.6h-2.4zM711.8,208.0h2.4v4.2h-2.4zM709.1,203.9h2.4v3.5h-2.4zM707.8,202.0h2.4v7.2h-2.4zM694.4,185.0h2.4v4.4h-2.4zM691.1,181.6h2.4v6.6h-2.4zM681.7,174.2h2.4v4.0h-2.4zM679.6,172.9h2.4v3.5h-2.4zM660.2,163.6h2.4v4.2h-2.4z" fill="#3b48a3" opacity="1"/>
<path d="M400.0,121.1h2.4v4.7h-2.4zM438.4,118.5h2.4v9.9h-2.4zM476.8,122.5h2.4v8.2h-2.4zM498.4,126.4h2.4v5.5h-2.4zM606.4,138.0h2.4v4.7h-2.4zM630.4,141.4h2.4v5.8h-2.4zM637.6,144.6h2.4v4.7h-2.4z" fill="#3b48a3" opacity="1"/>
<path d="M123.0,48.0 L124.2,50.8 L125.3,53.7 L126.4,56.6 L127.5,59.4 L128.8,62.2 L130.2,65.0 L131.9,67.9 L133.6,70.8 L135.5,73.7 L137.6,76.5 L139.9,79.1 L142.5,81.5 L146.1,84.1 L150.1,86.4 L154.5,88.5 L159.2,90.4 L164.2,92.2 L169.5,94.0 L177.5,96.2 L186.1,98.1 L195.4,99.8 L205.2,101.4 L215.3,102.9 L225.8,104.5 L239.5,106.5 L254.2,108.4 L269.4,110.3 L285.1,112.1 L300.8,113.8 L316.5,115.5 L333.1,117.2 L350.1,118.7 L367.3,120.2 L384.4,121.7 L401.2,123.2 L417.5,124.8 L431.9,126.2 L446.0,127.6 L460.0,129.1 L473.6,130.5 L486.9,132.1 L499.8,133.8 L510.4,135.3 L520.8,136.9 L531.0,138.7 L540.8,140.4 L550.3,142.0 L559.5,143.5 L566.7,144.6 L573.7,145.7 L580.4,146.8 L586.9,147.8 L593.3,148.8 L599.4,149.8 L604.4,150.5 L609.2,151.3 L613.8,152.0 L618.4,152.7 L622.8,153.5 L627.3,154.5 L631.3,155.5 L635.4,156.5 L639.4,157.7 L643.2,158.9 L647.0,160.1 L650.7,161.5 L653.9,162.8 L657.1,164.2 L660.2,165.7 L663.2,167.2 L666.1,168.8 L668.9,170.5 L671.3,172.1 L673.6,173.8 L675.8,175.5 L677.9,177.3 L680.0,179.1 L682.0,181.0 L683.9,182.7 L685.7,184.5 L687.4,186.4 L689.1,188.2 L690.7,190.0 L692.3,191.9 L693.9,193.7 L695.5,195.5 L697.0,197.3 L698.5,199.1 L699.9,201.0 L701.4,202.8 L702.7,204.6 L704.1,206.4 L705.4,208.3 L706.6,210.1 L707.9,211.9 L709.1,213.8 L710.2,215.6 L711.3,217.4 L712.3,219.2 L713.4,221.0 L714.4,222.9 L715.4,224.7 L716.3,226.5 L717.2,228.3 L718.1,230.1 L718.9,232.0 L719.8,233.8 L720.6,235.6 L721.4,237.4 L722.2,239.3 L723.0,241.1 L723.8,242.9 L724.5,244.7 L725.3,246.6 L726.0,248.4 L726.7,250.2 L727.4,252.0 L728.1,253.9 L728.8,255.7 L729.4,257.5 L730.0,259.3 L730.6,261.2 L731.2,263.0 L731.7,264.8 L732.2,266.6 L732.7,268.5 L733.2,270.3 L733.6,272.1 L734.0,273.9 L734.5,275.7 L734.9,277.5 L735.2,279.4 L735.7,281.4 L736.0,283.4 L736.4,285.5 L736.8,287.5 L737.1,289.6 L737.5,291.7 L737.9,293.9 L738.3,296.2 L738.7,298.5 L739.2,300.8 L739.6,303.1 L740.0,305.5 L740.4,308.1 L740.8,310.7 L741.3,313.4 L741.7,316.2 L742.1,319.0 L742.5,321.9 L743.0,325.7 L743.4,329.6 L743.9,333.6 L744.3,337.8 L744.7,342.0 L745.0,346.4 L745.4,351.6 L745.8,356.9 L746.2,362.3 L746.5,368.0 L746.8,373.9 L747.1,380.1 L747.5,388.6 L747.8,397.6 L748.1,407.0 L748.3,416.9 L748.6,427.2 L748.9,437.8 L749.3,452.4 L749.8,467.9 L750.2,484.2 L750.7,500.8 L751.1,517.4 L751.6,533.6 L746.7,533.6 L746.2,517.4 L745.8,500.8 L745.3,484.2 L744.9,467.9 L744.4,452.4 L744.0,437.8 L743.7,427.2 L743.5,416.9 L743.2,407.0 L742.9,397.6 L742.6,388.6 L742.2,380.1 L741.9,373.9 L741.5,368.0 L741.2,362.3 L740.8,356.9 L740.4,351.6 L739.9,346.4 L739.5,342.0 L739.0,337.8 L738.5,333.6 L738.0,329.6 L737.5,325.7 L737.0,321.9 L736.6,319.0 L736.1,316.2 L735.7,313.4 L735.3,310.7 L734.8,308.1 L734.4,305.5 L734.0,303.1 L733.6,300.8 L733.2,298.5 L732.8,296.2 L732.4,293.9 L732.0,291.7 L731.6,289.6 L731.3,287.5 L730.9,285.5 L730.5,283.4 L730.1,281.4 L729.7,279.4 L729.2,277.5 L728.8,275.7 L728.3,273.9 L727.8,272.1 L727.3,270.3 L726.8,268.5 L726.2,266.6 L725.6,264.8 L725.0,263.0 L724.3,261.2 L723.7,259.3 L723.0,257.5 L722.3,255.7 L721.6,253.9 L721.0,252.0 L720.2,250.2 L719.5,248.4 L718.8,246.6 L718.0,244.7 L717.3,242.9 L716.5,241.1 L715.7,239.3 L714.9,237.4 L714.0,235.6 L713.1,233.8 L712.1,232.0 L711.1,230.1 L710.1,228.3 L709.0,226.5 L708.0,224.7 L706.8,222.9 L705.6,221.0 L704.4,219.2 L703.2,217.4 L701.9,215.6 L700.7,213.8 L699.4,211.9 L698.0,210.1 L696.7,208.3 L695.4,206.5 L694.0,204.6 L692.6,202.8 L691.2,201.0 L689.7,199.1 L688.2,197.3 L686.7,195.5 L685.2,193.7 L683.6,191.9 L681.9,190.0 L680.2,188.2 L678.4,186.3 L676.6,184.5 L674.7,182.7 L672.7,181.0 L670.3,179.1 L667.8,177.3 L665.3,175.6 L662.5,173.9 L659.7,172.3 L656.7,170.8 L653.0,169.1 L649.1,167.6 L645.0,166.2 L640.8,164.9 L636.5,163.7 L632.1,162.5 L627.2,161.2 L622.3,160.1 L617.2,159.0 L612.0,158.0 L606.7,157.0 L601.2,156.0 L594.8,154.9 L588.1,153.8 L581.4,152.7 L574.4,151.7 L567.2,150.7 L559.7,149.8 L550.5,148.6 L540.9,147.5 L531.0,146.5 L520.9,145.5 L510.4,144.5 L499.8,143.5 L486.9,142.4 L473.6,141.4 L460.0,140.3 L446.1,139.3 L431.9,138.3 L417.5,137.2 L401.0,136.1 L383.9,135.1 L366.5,134.1 L349.0,132.9 L331.5,131.4 L314.2,129.5 L297.0,127.2 L279.6,124.8 L262.3,122.0 L245.1,118.8 L228.2,115.0 L211.8,110.5 L196.4,105.2 L181.4,99.1 L166.8,92.5 L152.2,85.6 L137.7,78.6 L123.0,72.0Z" fill="#58c0dc" opacity="1" stroke="#58c0dc" stroke-width="0.6" stroke-linejoin="round"/>
<path d="M731.7,294.7h2.4v4.1h-2.4zM729.6,282.8h2.4v4.6h-2.4zM729.1,280.5h2.4v3.9h-2.4zM728.1,275.8h2.4v3.9h-2.4zM724.1,262.0h2.4v6.4h-2.4zM721.7,255.2h2.4v7.2h-2.4zM720.0,250.7h2.4v3.6h-2.4zM705.4,220.5h2.4v3.9h-2.4zM702.7,216.5h2.4v3.9h-2.4zM701.4,214.5h2.4v4.1h-2.4zM688.5,197.2h2.4v6.0h-2.4zM687.0,195.3h2.4v4.4h-2.4zM674.0,181.2h2.4v4.2h-2.4z" fill="#58c0dc" opacity="1"/>
<path d="M482.8,120.3h2.4v12.5h-2.4z" fill="#58c0dc" opacity="1"/>
<path d="M123.0,44.0 L124.2,47.1 L125.2,50.2 L126.3,53.3 L127.5,56.3 L128.8,59.3 L130.2,62.2 L131.9,65.2 L133.8,68.1 L135.7,71.0 L137.8,73.7 L140.1,76.3 L142.5,78.7 L145.2,80.9 L148.1,82.9 L151.2,84.7 L154.5,86.4 L157.8,87.9 L161.2,89.3 L165.1,90.7 L169.0,91.8 L173.1,92.8 L177.3,93.6 L181.5,94.5 L185.8,95.3 L190.3,96.2 L195.0,97.0 L199.7,97.8 L204.5,98.5 L209.2,99.3 L214.0,100.0 L218.9,100.7 L223.7,101.4 L228.6,102.1 L233.5,102.8 L238.5,103.5 L243.5,104.1 L248.8,104.8 L254.1,105.4 L259.4,106.1 L264.8,106.7 L270.2,107.4 L275.8,108.0 L281.8,108.7 L287.9,109.4 L294.1,110.1 L300.4,110.8 L306.8,111.5 L313.2,112.2 L320.4,113.0 L327.6,113.8 L335.0,114.5 L342.4,115.3 L349.7,116.0 L357.0,116.8 L364.1,117.5 L371.2,118.2 L378.2,118.9 L385.2,119.6 L392.1,120.3 L398.8,121.0 L404.6,121.6 L410.2,122.2 L415.8,122.8 L421.2,123.4 L426.7,124.0 L432.2,124.5 L437.7,125.0 L443.2,125.4 L448.6,125.9 L454.0,126.3 L459.5,126.7 L465.0,127.2 L470.7,127.8 L476.5,128.3 L482.3,128.9 L488.2,129.5 L494.0,130.2 L499.8,131.0 L505.6,131.9 L511.4,132.9 L517.2,134.0 L523.0,135.2 L528.7,136.3 L534.2,137.5 L539.3,138.6 L544.3,139.8 L549.2,141.0 L554.0,142.1 L558.6,143.2 L563.0,144.0 L566.3,144.5 L569.5,144.9 L572.6,145.3 L575.6,145.6 L578.5,145.8 L581.5,146.0 L584.2,146.1 L586.8,146.1 L589.4,146.0 L592.0,146.0 L594.6,146.0 L597.2,146.2 L600.1,146.6 L603.1,147.2 L606.0,147.8 L609.0,148.5 L612.0,149.3 L614.9,150.2 L618.1,151.3 L621.3,152.6 L624.5,153.9 L627.7,155.4 L631.0,156.9 L634.1,158.4 L637.5,160.1 L640.9,161.9 L644.3,163.7 L647.6,165.6 L650.8,167.5 L653.9,169.5 L656.6,171.3 L659.2,173.2 L661.7,175.1 L664.2,177.0 L666.5,179.0 L668.6,181.0 L670.3,182.7 L671.8,184.5 L673.3,186.3 L674.7,188.2 L676.0,190.0 L677.3,191.9 L678.5,193.7 L679.7,195.5 L680.8,197.3 L681.8,199.2 L682.9,201.0 L683.9,202.8 L684.9,204.6 L685.9,206.5 L686.9,208.3 L687.9,210.1 L688.8,211.9 L689.8,213.8 L690.7,215.6 L691.6,217.4 L692.4,219.2 L693.3,221.0 L694.1,222.9 L695.0,224.7 L695.8,226.5 L696.6,228.3 L697.4,230.1 L698.2,232.0 L698.9,233.8 L699.7,235.6 L700.4,237.4 L701.1,239.3 L701.8,241.1 L702.5,242.9 L703.2,244.7 L703.8,246.6 L704.5,248.4 L705.1,250.2 L705.7,252.0 L706.3,253.9 L706.9,255.7 L707.4,257.5 L708.0,259.4 L708.5,261.2 L709.0,263.1 L709.5,264.9 L709.9,266.8 L710.4,268.6 L710.8,270.5 L711.2,272.3 L711.6,274.1 L712.0,276.0 L712.4,277.8 L712.8,279.7 L713.2,281.7 L713.6,283.7 L714.0,285.7 L714.4,287.8 L714.8,289.8 L715.2,291.9 L715.5,293.9 L715.9,295.9 L716.2,297.9 L716.5,299.9 L716.8,302.0 L717.1,304.1 L717.4,306.5 L717.6,308.9 L717.9,311.3 L718.1,313.8 L718.4,316.4 L718.6,319.2 L719.0,323.1 L719.4,327.2 L719.7,331.4 L720.1,335.9 L720.5,340.4 L720.9,345.0 L721.3,350.5 L721.8,356.0 L722.2,361.7 L722.7,367.5 L723.1,373.7 L723.5,380.1 L724.0,388.6 L724.4,397.6 L724.9,407.0 L725.3,416.7 L725.7,426.9 L726.1,437.4 L726.7,451.8 L727.3,467.2 L727.9,483.2 L728.4,499.6 L729.0,516.0 L729.6,532.0 L724.7,532.0 L724.1,516.0 L723.6,499.6 L723.0,483.2 L722.4,467.2 L721.8,451.8 L721.2,437.4 L720.7,426.9 L720.3,416.7 L719.8,406.9 L719.3,397.6 L718.7,388.6 L718.1,380.0 L717.6,373.7 L717.0,367.6 L716.5,361.8 L715.9,356.2 L715.3,350.6 L714.6,345.0 L714.0,339.8 L713.4,334.7 L712.7,329.6 L712.0,324.6 L711.3,319.8 L710.6,315.1 L710.1,311.2 L709.5,307.3 L708.8,303.6 L708.2,299.9 L707.6,296.4 L707.0,293.1 L706.5,290.6 L706.0,288.2 L705.6,285.9 L705.1,283.7 L704.5,281.5 L704.0,279.4 L703.4,277.5 L702.9,275.6 L702.3,273.8 L701.6,272.0 L701.0,270.3 L700.3,268.5 L699.5,266.6 L698.7,264.8 L697.8,263.0 L697.0,261.2 L696.1,259.3 L695.2,257.5 L694.3,255.7 L693.4,253.9 L692.5,252.0 L691.5,250.2 L690.6,248.4 L689.6,246.6 L688.6,244.7 L687.6,242.9 L686.6,241.1 L685.6,239.3 L684.5,237.4 L683.5,235.6 L682.3,233.8 L681.1,232.0 L679.9,230.1 L678.7,228.3 L677.4,226.5 L676.2,224.7 L674.8,222.9 L673.5,221.0 L672.1,219.2 L670.7,217.4 L669.3,215.6 L667.8,213.8 L666.4,211.9 L664.9,210.1 L663.4,208.3 L661.9,206.4 L660.4,204.6 L659.0,202.8 L657.5,201.0 L656.1,199.2 L654.6,197.4 L653.1,195.7 L651.6,194.0 L650.0,192.4 L648.3,190.9 L646.5,189.4 L644.7,188.0 L642.9,186.7 L640.9,185.5 L638.8,184.5 L636.2,183.5 L633.6,182.8 L630.7,182.2 L627.8,181.7 L624.8,181.2 L621.8,180.8 L618.2,180.2 L614.4,179.9 L610.6,179.5 L606.6,179.2 L602.6,178.8 L598.6,178.2 L593.9,177.5 L589.2,176.6 L584.4,175.7 L579.5,174.6 L574.5,173.6 L569.5,172.5 L564.0,171.3 L558.5,170.0 L552.8,168.6 L547.1,167.3 L541.4,166.0 L535.7,164.8 L529.9,163.6 L524.1,162.5 L518.2,161.5 L512.4,160.5 L506.5,159.6 L500.6,158.8 L494.8,158.0 L488.9,157.3 L483.0,156.7 L477.1,156.1 L471.3,155.5 L465.5,155.0 L459.9,154.5 L454.4,154.0 L448.9,153.6 L443.5,153.1 L438.0,152.7 L432.5,152.2 L426.9,151.8 L421.4,151.3 L415.9,150.9 L410.3,150.4 L404.6,150.0 L398.8,149.5 L392.1,149.0 L385.2,148.4 L378.2,147.9 L371.2,147.4 L364.1,146.8 L357.0,146.2 L349.7,145.7 L342.4,145.1 L335.0,144.5 L327.6,144.0 L320.4,143.4 L313.2,142.8 L306.8,142.2 L300.4,141.6 L294.1,141.0 L287.9,140.4 L281.8,139.8 L275.8,139.1 L270.2,138.5 L264.8,137.9 L259.4,137.3 L254.1,136.7 L248.8,136.1 L243.5,135.5 L238.5,134.9 L233.5,134.3 L228.6,133.7 L223.7,133.1 L218.9,132.5 L214.0,131.9 L209.2,131.3 L204.5,130.7 L199.7,130.2 L195.0,129.6 L190.3,129.0 L185.8,128.3 L181.5,127.7 L177.3,127.1 L173.1,126.5 L169.1,125.7 L165.1,124.9 L161.2,123.9 L157.9,122.9 L154.6,121.8 L151.3,120.6 L148.2,119.2 L145.3,117.8 L142.5,116.2 L140.2,114.7 L137.9,113.1 L135.8,111.4 L133.8,109.6 L132.0,107.8 L130.2,105.9 L128.8,104.2 L127.6,102.4 L126.4,100.6 L125.3,98.7 L124.2,96.8 L123.0,95.0Z" fill="#b846ab" opacity="1" stroke="#b846ab" stroke-width="0.6" stroke-linejoin="round"/>
<path d="M710.7,321.7h2.4v10.1h-2.4zM710.0,316.9h2.4v10.4h-2.4zM709.0,309.8h2.4v4.3h-2.4zM707.8,302.7h2.4v10.5h-2.4zM707.4,300.3h2.4v5.9h-2.4zM707.0,298.0h2.4v4.7h-2.4zM706.6,295.6h2.4v7.5h-2.4zM705.8,290.9h2.4v9.4h-2.4zM704.8,286.2h2.4v5.1h-2.4zM704.3,283.8h2.4v9.6h-2.4zM703.8,281.5h2.4v6.7h-2.4zM703.2,279.2h2.4v11.0h-2.4zM701.9,274.5h2.4v11.7h-2.4zM701.2,272.3h2.4v5.7h-2.4zM699.6,267.7h2.4v4.1h-2.4zM698.7,265.5h2.4v9.6h-2.4zM696.7,261.1h2.4v7.1h-2.4zM695.7,259.0h2.4v5.6h-2.4zM694.6,256.8h2.4v6.1h-2.4zM693.6,254.7h2.4v13.2h-2.4zM692.5,252.5h2.4v7.8h-2.4zM689.2,246.1h2.4v7.7h-2.4zM686.9,241.9h2.4v4.5h-2.4zM685.8,239.8h2.4v10.5h-2.4zM684.6,237.7h2.4v6.2h-2.4zM683.4,235.6h2.4v4.0h-2.4zM680.9,231.5h2.4v6.9h-2.4zM679.6,229.5h2.4v5.4h-2.4zM678.3,227.5h2.4v13.0h-2.4zM675.6,223.5h2.4v4.7h-2.4zM671.3,217.8h2.4v4.3h-2.4zM668.3,214.0h2.4v6.4h-2.4zM666.9,212.1h2.4v12.5h-2.4zM665.4,210.2h2.4v8.2h-2.4zM662.4,206.4h2.4v6.0h-2.4zM660.9,204.6h2.4v9.9h-2.4zM659.3,202.7h2.4v8.8h-2.4zM651.7,193.4h2.4v11.6h-2.4zM648.4,190.0h2.4v3.7h-2.4zM646.6,188.4h2.4v6.6h-2.4zM640.8,184.2h2.4v7.8h-2.4zM638.7,183.0h2.4v9.4h-2.4zM631.9,180.7h2.4v11.4h-2.4zM629.5,180.2h2.4v5.0h-2.4zM624.8,179.4h2.4v8.6h-2.4zM622.4,179.0h2.4v5.7h-2.4zM620.1,178.7h2.4v6.1h-2.4zM615.3,178.1h2.4v11.9h-2.4zM610.5,177.6h2.4v8.0h-2.4zM601.0,176.7h2.4v7.6h-2.4zM598.6,176.4h2.4v3.9h-2.4zM591.5,175.3h2.4v11.1h-2.4zM586.8,174.4h2.4v13.2h-2.4zM584.4,173.9h2.4v9.0h-2.4zM579.7,172.9h2.4v5.2h-2.4zM577.4,172.4h2.4v7.9h-2.4zM575.0,171.9h2.4v7.1h-2.4zM570.3,170.9h2.4v6.4h-2.4zM568.0,170.4h2.4v9.4h-2.4zM563.3,169.4h2.4v4.6h-2.4zM558.6,168.3h2.4v11.6h-2.4zM553.9,167.2h2.4v6.6h-2.4zM546.9,165.5h2.4v7.9h-2.4zM544.6,165.0h2.4v9.8h-2.4zM542.3,164.4h2.4v4.0h-2.4zM537.6,163.4h2.4v5.7h-2.4zM530.5,162.0h2.4v6.3h-2.4zM518.7,159.8h2.4v7.8h-2.4zM516.3,159.4h2.4v5.9h-2.4zM514.0,159.0h2.4v8.5h-2.4zM506.9,157.8h2.4v7.0h-2.4zM502.1,157.1h2.4v5.1h-2.4zM499.7,156.8h2.4v8.8h-2.4zM497.4,156.5h2.4v4.3h-2.4zM495.0,156.2h2.4v4.0h-2.4zM490.2,155.6h2.4v5.6h-2.4zM487.8,155.3h2.4v11.5h-2.4zM483.1,154.8h2.4v4.1h-2.4zM480.7,154.6h2.4v4.2h-2.4zM478.3,154.3h2.4v13.6h-2.4zM475.9,154.1h2.4v9.7h-2.4zM473.5,153.9h2.4v13.2h-2.4zM471.1,153.6h2.4v9.4h-2.4zM468.7,153.4h2.4v6.0h-2.4zM466.3,153.2h2.4v7.5h-2.4zM461.6,152.7h2.4v7.2h-2.4zM456.8,152.3h2.4v13.4h-2.4zM454.4,152.1h2.4v5.9h-2.4zM447.2,151.5h2.4v4.3h-2.4zM444.8,151.3h2.4v6.3h-2.4zM442.4,151.1h2.4v6.6h-2.4zM440.0,151.0h2.4v12.7h-2.4zM437.6,150.8h2.4v12.1h-2.4zM435.3,150.6h2.4v14.2h-2.4zM428.1,150.0h2.4v12.2h-2.4zM425.7,149.8h2.4v5.6h-2.4zM423.3,149.6h2.4v3.6h-2.4zM418.5,149.2h2.4v4.6h-2.4zM408.9,148.4h2.4v3.9h-2.4zM406.6,148.2h2.4v8.8h-2.4z" fill="#b846ab" opacity="1"/>
<path d="M123.0,39.8h2.4v7.2h-2.4zM125.4,43.9h2.4v10.3h-2.4zM127.8,53.8h2.4v7.6h-2.4zM159.0,87.4h2.4v5.4h-2.4zM166.2,86.5h2.4v8.2h-2.4zM178.2,87.4h2.4v9.7h-2.4zM202.2,88.9h2.4v12.3h-2.4zM207.0,95.4h2.4v6.6h-2.4zM211.8,90.8h2.4v12.0h-2.4zM214.2,91.9h2.4v11.3h-2.4zM219.0,97.9h2.4v6.0h-2.4zM223.8,94.9h2.4v9.7h-2.4zM257.4,102.4h2.4v6.5h-2.4zM259.8,101.3h2.4v7.9h-2.4zM269.4,100.9h2.4v9.3h-2.4zM274.2,98.6h2.4v12.2h-2.4zM276.6,104.2h2.4v6.8h-2.4zM291.0,105.8h2.4v7.0h-2.4zM293.4,104.6h2.4v8.4h-2.4zM300.6,107.1h2.4v6.8h-2.4zM305.4,105.8h2.4v8.6h-2.4zM319.8,107.0h2.4v9.1h-2.4zM329.4,107.2h2.4v9.8h-2.4zM331.8,107.4h2.4v9.9h-2.4zM346.2,111.1h2.4v7.8h-2.4zM360.6,112.2h2.4v8.1h-2.4zM363.0,115.7h2.4v4.8h-2.4zM367.8,114.5h2.4v6.4h-2.4zM370.2,111.4h2.4v9.7h-2.4zM372.6,116.8h2.4v4.6h-2.4zM375.0,109.9h2.4v11.6h-2.4zM379.8,110.0h2.4v11.9h-2.4zM382.2,115.1h2.4v7.0h-2.4zM389.4,112.4h2.4v10.4h-2.4zM391.8,113.5h2.4v9.4h-2.4zM399.0,114.9h2.4v8.7h-2.4zM408.6,117.0h2.4v7.7h-2.4zM423.0,116.1h2.4v10.8h-2.4zM430.2,120.7h2.4v7.3h-2.4zM435.0,116.5h2.4v11.8h-2.4zM442.2,116.4h2.4v12.3h-2.4zM444.6,121.6h2.4v7.2h-2.4zM473.4,126.1h2.4v4.6h-2.4zM478.2,121.0h2.4v10.1h-2.4zM480.6,126.1h2.4v5.2h-2.4zM483.0,121.3h2.4v10.3h-2.4zM485.4,124.8h2.4v6.9h-2.4zM492.6,127.9h2.4v4.5h-2.4zM497.4,128.1h2.4v4.6h-2.4zM504.6,129.1h2.4v4.8h-2.4zM507.0,127.5h2.4v6.9h-2.4zM511.8,125.8h2.4v9.7h-2.4zM521.4,130.2h2.4v7.2h-2.4zM528.6,133.9h2.4v5.0h-2.4z" fill="#b846ab" opacity="1"/>
<path d="M558.8,137.9h2.4v8.4h-2.4zM592.4,142.8h2.4v5.0h-2.4zM597.2,139.2h2.4v7.8h-2.4zM623.6,150.6h2.4v5.8h-2.4z" fill="#b846ab" opacity="1"/>
<path d="M125.4,96.4h2.4v11.7h-2.4zM137.4,111.2h2.4v16.4h-2.4zM142.2,114.7h2.4v6.7h-2.4zM147.0,116.7h2.4v7.1h-2.4zM149.4,117.6h2.4v4.7h-2.4zM151.8,118.6h2.4v5.6h-2.4zM154.2,119.6h2.4v12.5h-2.4zM178.2,124.4h2.4v8.7h-2.4zM183.0,125.0h2.4v4.8h-2.4zM185.4,125.3h2.4v11.2h-2.4zM195.0,126.5h2.4v4.5h-2.4zM204.6,127.6h2.4v4.9h-2.4zM207.0,127.9h2.4v5.0h-2.4zM211.8,128.5h2.4v9.2h-2.4zM223.8,130.1h2.4v15.7h-2.4zM238.2,132.1h2.4v11.1h-2.4zM252.6,133.7h2.4v10.7h-2.4zM255.0,133.9h2.4v11.7h-2.4zM259.8,134.4h2.4v4.7h-2.4zM262.2,134.6h2.4v8.7h-2.4zM264.6,134.9h2.4v11.9h-2.4zM274.2,135.8h2.4v7.9h-2.4zM276.6,136.1h2.4v9.1h-2.4zM281.4,136.6h2.4v11.1h-2.4zM286.2,137.2h2.4v5.5h-2.4zM288.6,137.5h2.4v13.5h-2.4zM291.0,137.8h2.4v12.5h-2.4zM293.4,138.0h2.4v12.2h-2.4zM300.6,138.9h2.4v9.1h-2.4zM303.0,139.2h2.4v14.2h-2.4zM305.4,139.5h2.4v5.2h-2.4zM310.2,140.0h2.4v5.6h-2.4zM315.0,140.3h2.4v5.3h-2.4zM319.8,140.6h2.4v12.8h-2.4zM336.6,141.7h2.4v10.6h-2.4zM343.8,142.2h2.4v7.9h-2.4zM348.6,142.5h2.4v11.7h-2.4zM355.8,142.9h2.4v12.5h-2.4zM358.2,143.1h2.4v8.7h-2.4zM363.0,143.5h2.4v5.8h-2.4zM365.4,143.7h2.4v6.7h-2.4zM367.8,143.9h2.4v11.2h-2.4zM372.6,144.3h2.4v8.8h-2.4zM379.8,144.9h2.4v8.8h-2.4zM394.2,146.2h2.4v4.5h-2.4zM401.4,146.8h2.4v5.8h-2.4zM408.6,147.4h2.4v4.9h-2.4zM415.8,147.9h2.4v15.5h-2.4zM418.2,148.1h2.4v4.7h-2.4zM430.2,149.0h2.4v8.1h-2.4zM447.0,150.4h2.4v16.2h-2.4zM449.4,150.6h2.4v6.3h-2.4zM468.6,152.3h2.4v10.3h-2.4zM475.8,152.9h2.4v12.8h-2.4zM480.6,153.3h2.4v15.3h-2.4zM487.8,153.9h2.4v7.1h-2.4zM502.2,155.2h2.4v14.4h-2.4zM507.0,156.1h2.4v5.7h-2.4zM509.4,156.5h2.4v12.7h-2.4zM511.8,156.9h2.4v5.1h-2.4zM516.6,157.7h2.4v15.2h-2.4zM519.0,158.2h2.4v4.8h-2.4zM521.4,158.6h2.4v7.2h-2.4zM526.2,159.4h2.4v15.8h-2.4zM543.0,162.9h2.4v9.3h-2.4zM545.4,163.5h2.4v7.4h-2.4zM550.2,164.7h2.4v11.1h-2.4zM557.4,166.5h2.4v8.6h-2.4zM559.8,167.1h2.4v12.6h-2.4zM564.6,168.3h2.4v7.6h-2.4zM569.4,169.5h2.4v5.6h-2.4zM581.4,172.5h2.4v9.4h-2.4zM586.2,173.6h2.4v8.8h-2.4zM588.6,174.2h2.4v6.7h-2.4zM595.8,176.0h2.4v4.7h-2.4zM605.4,177.0h2.4v12.0h-2.4zM610.2,177.0h2.4v4.6h-2.4zM622.2,177.0h2.4v5.2h-2.4zM624.6,177.3h2.4v8.0h-2.4zM627.0,177.7h2.4v9.5h-2.4zM631.8,178.5h2.4v12.3h-2.4zM634.2,178.9h2.4v8.0h-2.4z" fill="#b846ab" opacity="1"/>
<path d="M123.0,62.0 L123.7,63.8 L124.4,65.7 L125.1,67.5 L125.7,69.4 L126.5,71.2 L127.2,73.1 L128.1,74.8 L129.0,76.6 L130.1,78.2 L131.3,79.8 L132.5,81.3 L133.8,82.9 L135.2,84.4 L136.7,85.8 L138.3,87.2 L140.0,88.5 L142.2,90.1 L144.6,91.7 L147.2,93.2 L149.9,94.6 L152.6,95.9 L155.5,97.2 L158.3,98.4 L161.0,99.5 L163.7,100.5 L166.3,101.4 L169.0,102.2 L171.6,102.9 L174.4,103.6 L177.1,104.3 L180.0,105.0 L183.0,105.7 L186.8,106.4 L190.8,107.0 L194.9,107.6 L199.1,108.1 L203.4,108.7 L207.6,109.3 L211.9,109.9 L216.0,110.5 L220.0,111.1 L223.9,111.8 L227.7,112.5 L231.5,113.1 L235.5,113.8 L239.5,114.5 L243.6,115.2 L248.0,115.9 L253.9,116.9 L260.0,117.9 L266.4,119.0 L273.0,120.0 L279.7,121.1 L286.5,122.0 L293.3,122.9 L300.0,123.8 L307.1,124.3 L314.4,124.7 L321.8,125.0 L329.2,125.3 L336.6,125.6 L343.9,125.9 L351.1,126.2 L358.0,126.7 L364.1,127.1 L370.2,127.6 L376.2,128.2 L382.2,128.8 L387.9,129.3 L393.5,129.9 L398.9,130.5 L404.0,131.0 L407.6,131.4 L410.9,131.8 L414.1,132.1 L417.2,132.5 L420.3,132.8 L423.4,133.2 L426.6,133.6 L430.0,134.0 L434.1,134.5 L438.4,135.1 L442.7,135.7 L447.2,136.3 L451.6,136.9 L456.1,137.5 L460.6,138.0 L465.0,138.5 L469.4,138.9 L473.8,139.3 L478.2,139.6 L482.5,139.8 L486.9,140.1 L491.3,140.5 L495.7,140.9 L500.0,141.5 L504.3,142.1 L508.5,142.8 L512.8,143.6 L517.0,144.4 L521.3,145.3 L525.5,146.2 L529.7,147.1 L534.0,148.0 L538.4,148.9 L542.9,149.8 L547.5,150.8 L552.0,151.8 L556.5,152.8 L560.9,153.8 L565.0,154.7 L569.0,155.5 L571.9,156.0 L574.6,156.5 L577.2,156.9 L579.8,157.3 L582.3,157.7 L584.8,158.2 L587.4,158.8 L590.0,159.5 L593.1,160.7 L596.2,162.0 L599.3,163.5 L602.4,165.1 L605.6,166.7 L608.7,168.3 L611.9,170.0 L615.0,171.5 L615.0,190.5 L611.9,189.0 L608.7,187.3 L605.6,185.7 L602.4,184.1 L599.3,182.5 L596.2,181.0 L593.1,179.7 L590.0,178.5 L587.4,177.5 L584.8,176.7 L582.3,175.9 L579.8,175.3 L577.2,174.6 L574.6,174.0 L571.9,173.3 L569.0,172.5 L565.0,171.4 L560.9,170.3 L556.5,169.0 L552.0,167.8 L547.5,166.6 L542.9,165.3 L538.4,164.1 L534.0,163.0 L529.7,162.0 L525.5,160.9 L521.3,159.9 L517.0,158.9 L512.8,158.0 L508.5,157.1 L504.3,156.2 L500.0,155.5 L495.7,154.9 L491.3,154.5 L486.9,154.1 L482.5,153.8 L478.2,153.6 L473.8,153.3 L469.4,152.9 L465.0,152.5 L460.6,152.0 L456.1,151.5 L451.6,150.9 L447.2,150.3 L442.7,149.7 L438.4,149.1 L434.1,148.5 L430.0,148.0 L426.6,147.6 L423.4,147.2 L420.3,146.8 L417.2,146.5 L414.1,146.1 L410.9,145.8 L407.6,145.4 L404.0,145.0 L398.9,144.4 L393.5,143.8 L387.9,143.1 L382.2,142.5 L376.2,141.9 L370.2,141.2 L364.1,140.7 L358.0,140.2 L351.1,139.7 L343.9,139.4 L336.6,139.1 L329.2,138.8 L321.8,138.5 L314.4,138.2 L307.1,137.8 L300.0,137.2 L293.3,136.8 L286.5,136.2 L279.7,135.6 L273.0,134.9 L266.4,134.2 L260.0,133.5 L253.9,132.8 L248.0,132.1 L243.6,131.5 L239.5,130.9 L235.5,130.3 L231.5,129.7 L227.7,129.2 L223.9,128.6 L220.0,128.0 L216.0,127.5 L211.9,127.0 L207.6,126.5 L203.4,126.1 L199.1,125.6 L194.9,125.2 L190.8,124.7 L186.8,124.2 L183.0,123.7 L180.0,123.5 L177.1,123.2 L174.4,123.0 L171.6,122.8 L169.0,122.5 L166.3,122.2 L163.7,121.7 L161.0,121.1 L158.3,120.4 L155.5,119.5 L152.6,118.5 L149.9,117.5 L147.2,116.3 L144.6,115.1 L142.2,113.8 L140.0,112.5 L138.3,111.2 L136.7,109.8 L135.2,108.4 L133.8,106.9 L132.5,105.3 L131.3,103.8 L130.1,102.2 L129.0,100.6 L128.1,99.3 L127.2,98.1 L126.5,96.7 L125.7,95.4 L125.1,94.0 L124.4,92.7 L123.7,91.3 L123.0,90.0Z" fill="#1c1a1c"/>
<path d="M600.0,163.0 L602.6,164.7 L605.2,166.4 L607.8,168.1 L610.4,169.8 L613.0,171.6 L615.5,173.5 L618.1,175.5 L620.6,177.6 L623.1,179.8 L625.6,182.0 L627.9,184.2 L630.2,186.5 L632.2,188.7 L634.2,191.0 L636.1,193.3 L638.0,195.6 L639.7,197.9 L641.5,200.2 L643.0,202.3 L644.4,204.5 L645.8,206.7 L647.2,208.8 L648.5,211.0 L649.8,213.1 L651.0,215.0 L652.2,217.0 L653.4,218.9 L654.5,220.9 L655.6,222.8 L656.7,224.7 L657.7,226.5 L658.7,228.4 L659.7,230.2 L660.6,232.0 L661.6,233.8 L662.5,235.6 L663.4,237.4 L664.3,239.3 L665.2,241.1 L666.1,242.9 L667.0,244.7 L667.8,246.6 L668.6,248.4 L669.4,250.2 L670.2,252.0 L671.0,253.9 L671.8,255.7 L672.5,257.5 L673.2,259.3 L673.9,261.1 L674.5,262.9 L675.1,264.7 L675.7,266.6 L676.3,268.5 L676.9,270.6 L677.5,272.7 L678.0,274.8 L678.5,277.0 L679.1,279.4 L679.6,281.8 L680.3,285.3 L681.1,289.0 L681.8,292.9 L682.6,297.0 L683.3,301.1 L684.1,305.4 L685.0,310.5 L686.0,315.9 L687.0,321.4 L688.0,327.1 L688.9,332.8 L689.8,338.5 L690.7,344.5 L691.6,350.5 L692.4,356.6 L693.2,362.8 L693.9,369.0 L694.6,375.5 L695.3,383.0 L695.9,390.6 L696.4,398.5 L696.9,406.4 L697.4,414.4 L697.9,422.5 L698.4,431.2 L698.9,440.2 L699.4,449.2 L699.9,458.3 L700.4,467.2 L701.0,476.0 L701.6,484.2 L702.1,492.2 L702.7,500.2 L703.3,508.1 L703.9,516.0 L704.5,524.0 L700.8,524.0 L700.3,516.0 L699.7,508.1 L699.2,500.2 L698.6,492.2 L698.1,484.2 L697.5,476.0 L697.0,467.2 L696.4,458.3 L695.9,449.2 L695.3,440.2 L694.8,431.2 L694.1,422.5 L693.6,414.4 L693.0,406.4 L692.4,398.4 L691.8,390.6 L691.1,383.0 L690.3,375.5 L689.5,369.0 L688.7,362.7 L687.8,356.6 L686.8,350.5 L685.8,344.5 L684.8,338.5 L683.8,332.8 L682.7,327.1 L681.6,321.4 L680.4,315.9 L679.3,310.5 L678.2,305.4 L677.4,301.1 L676.5,297.0 L675.7,292.9 L674.9,289.0 L674.1,285.3 L673.2,281.8 L672.6,279.4 L671.9,277.0 L671.3,274.8 L670.6,272.7 L670.0,270.6 L669.2,268.5 L668.5,266.6 L667.8,264.7 L667.1,262.9 L666.3,261.1 L665.5,259.3 L664.7,257.5 L664.0,255.7 L663.2,253.9 L662.3,252.0 L661.5,250.2 L660.7,248.4 L659.8,246.6 L659.0,244.7 L658.1,242.9 L657.2,241.1 L656.3,239.3 L655.4,237.4 L654.4,235.6 L653.5,233.8 L652.5,232.0 L651.5,230.1 L650.5,228.3 L649.5,226.5 L648.4,224.7 L647.4,222.9 L646.3,221.2 L645.3,219.4 L644.1,217.7 L642.9,216.0 L641.6,214.3 L640.1,212.5 L638.4,210.7 L636.7,209.0 L634.8,207.3 L632.9,205.6 L631.0,203.9 L628.7,201.9 L626.2,200.0 L623.7,198.1 L621.1,196.2 L618.4,194.4 L615.8,192.6 L613.2,190.7 L610.6,189.0 L608.0,187.2 L605.3,185.5 L602.6,183.7 L600.0,182.0Z" fill="#1c1a1c" opacity="1" stroke="#1c1a1c" stroke-width="0.6" stroke-linejoin="round"/>
<path d="M674.0,288.5h2.4v6.1h-2.4zM673.5,286.2h2.4v3.9h-2.4zM673.0,283.9h2.4v5.5h-2.4zM656.0,239.1h2.4v4.3h-2.4zM652.7,232.7h2.4v5.3h-2.4zM641.8,214.1h2.4v7.4h-2.4zM622.5,196.2h2.4v4.4h-2.4zM612.7,189.2h2.4v6.7h-2.4zM606.7,185.2h2.4v4.2h-2.4zM602.7,182.6h2.4v4.6h-2.4zM600.7,181.3h2.4v4.5h-2.4z" fill="#1c1a1c" opacity="1"/>
<path d="M147.0,93.8h2.4v5.9h-2.4zM161.4,100.1h2.4v6.3h-2.4zM183.0,104.5h2.4v6.2h-2.4zM190.2,107.1h2.4v4.5h-2.4zM195.0,107.1h2.4v5.2h-2.4zM204.6,108.5h2.4v5.0h-2.4zM207.0,109.1h2.4v4.8h-2.4zM214.2,109.3h2.4v5.5h-2.4zM221.4,110.7h2.4v5.2h-2.4zM223.8,110.1h2.4v6.1h-2.4zM245.4,113.1h2.4v6.4h-2.4zM264.6,116.2h2.4v5.9h-2.4zM288.6,119.9h2.4v5.2h-2.4zM291.0,118.4h2.4v7.0h-2.4zM298.2,120.5h2.4v5.8h-2.4zM300.6,121.4h2.4v5.1h-2.4zM303.0,121.2h2.4v5.5h-2.4zM305.4,121.9h2.4v4.9h-2.4zM324.6,123.2h2.4v4.5h-2.4zM327.0,122.3h2.4v5.5h-2.4zM334.2,123.6h2.4v4.6h-2.4zM341.4,123.5h2.4v5.0h-2.4zM363.0,123.2h2.4v6.7h-2.4zM382.2,124.6h2.4v7.2h-2.4zM387.0,126.8h2.4v5.5h-2.4zM399.0,127.4h2.4v6.1h-2.4zM425.4,131.1h2.4v5.4h-2.4zM427.8,130.3h2.4v6.5h-2.4zM430.2,130.3h2.4v6.7h-2.4zM444.6,133.8h2.4v5.1h-2.4zM461.4,135.5h2.4v5.5h-2.4zM463.8,134.7h2.4v6.7h-2.4zM480.6,138.3h2.4v4.5h-2.4zM485.4,138.1h2.4v5.1h-2.4zM507.0,138.8h2.4v7.2h-2.4zM519.0,143.9h2.4v4.5h-2.4zM523.8,143.4h2.4v6.0h-2.4zM526.2,143.2h2.4v6.7h-2.4zM552.6,149.3h2.4v6.7h-2.4zM562.2,152.4h2.4v6.0h-2.4zM571.8,156.2h2.4v4.5h-2.4zM574.2,156.3h2.4v5.0h-2.4zM576.6,157.0h2.4v4.8h-2.4zM586.2,158.6h2.4v5.5h-2.4zM588.6,157.2h2.4v7.4h-2.4zM591.0,160.7h2.4v4.8h-2.4z" fill="#1c1a1c" opacity="1"/>
<path d="M125.4,85.0h2.4v7.4h-2.4zM139.8,104.3h2.4v7.3h-2.4zM144.6,106.6h2.4v4.6h-2.4zM159.0,113.4h2.4v4.8h-2.4zM161.4,114.4h2.4v5.6h-2.4zM192.6,120.0h2.4v6.3h-2.4zM199.8,120.9h2.4v4.8h-2.4zM202.2,121.2h2.4v5.1h-2.4zM238.2,126.5h2.4v4.5h-2.4zM243.0,127.2h2.4v6.1h-2.4zM255.0,128.9h2.4v5.2h-2.4zM281.4,132.2h2.4v7.2h-2.4zM295.8,134.0h2.4v6.7h-2.4zM298.2,134.3h2.4v5.2h-2.4zM305.4,134.8h2.4v4.5h-2.4zM310.2,135.0h2.4v4.9h-2.4zM317.4,135.4h2.4v6.6h-2.4zM324.6,135.7h2.4v5.4h-2.4zM341.4,136.6h2.4v6.9h-2.4zM358.2,137.4h2.4v6.2h-2.4zM363.0,137.9h2.4v4.6h-2.4zM370.2,138.6h2.4v6.2h-2.4zM408.6,142.5h2.4v4.7h-2.4zM439.8,146.3h2.4v5.5h-2.4zM451.8,147.8h2.4v5.6h-2.4zM456.6,148.4h2.4v6.2h-2.4zM466.2,149.6h2.4v7.2h-2.4zM504.6,153.4h2.4v5.0h-2.4zM509.4,154.4h2.4v5.5h-2.4zM511.8,154.9h2.4v6.6h-2.4zM521.4,156.9h2.4v4.5h-2.4zM523.8,157.4h2.4v6.8h-2.4zM543.0,161.7h2.4v7.5h-2.4zM557.4,165.2h2.4v4.8h-2.4zM559.8,165.8h2.4v6.0h-2.4zM567.0,167.5h2.4v5.2h-2.4zM591.0,173.5h2.4v4.9h-2.4zM598.2,176.9h2.4v4.6h-2.4z" fill="#1c1a1c" opacity="1"/>
<path d="M123.0,86.0 L123.5,88.1 L123.9,90.2 L124.4,92.3 L124.9,94.5 L125.4,96.6 L125.9,98.9 L126.7,101.5 L127.4,104.2 L128.2,107.0 L129.0,109.8 L129.9,112.6 L130.8,115.5 L131.9,118.5 L133.0,121.6 L134.1,124.7 L135.3,127.8 L136.5,130.9 L137.8,133.8 L139.0,136.4 L140.3,139.0 L141.6,141.5 L143.0,144.0 L144.4,146.3 L146.0,148.5 L147.6,150.4 L149.3,152.2 L151.1,154.0 L152.9,155.6 L154.9,157.2 L156.8,158.9 L159.2,160.7 L161.6,162.4 L164.2,164.1 L166.8,165.7 L169.4,167.5 L172.0,169.2 L174.9,171.2 L177.8,173.3 L180.7,175.4 L183.6,177.5 L186.5,179.6 L189.4,181.8 L192.2,183.9 L195.0,186.1 L197.7,188.3 L200.5,190.6 L203.1,192.8 L205.8,195.0 L208.1,197.0 L210.5,199.0 L212.8,201.0 L215.1,203.0 L217.4,205.0 L219.5,207.0 L221.5,208.9 L223.4,210.9 L225.3,212.8 L227.1,214.8 L228.9,216.8 L230.6,218.9 L232.3,221.0 L233.8,223.1 L235.3,225.3 L236.8,227.6 L238.2,229.8 L239.7,232.0 L241.1,234.2 L242.5,236.3 L243.8,238.5 L245.1,240.7 L246.5,242.8 L247.8,245.0 L249.1,247.1 L250.5,249.2 L251.8,251.2 L253.1,253.3 L254.4,255.4 L255.6,257.5 L256.8,259.6 L257.9,261.6 L259.0,263.7 L260.1,265.8 L261.2,267.9 L262.2,270.0 L263.1,272.1 L264.1,274.1 L265.0,276.2 L265.8,278.3 L266.7,280.4 L267.5,282.5 L268.3,284.6 L269.1,286.7 L269.9,288.7 L270.7,290.8 L271.4,292.9 L272.2,295.0 L272.9,297.1 L273.6,299.2 L274.3,301.2 L274.9,303.3 L275.6,305.4 L276.2,307.5 L276.9,309.6 L277.5,311.7 L278.2,313.7 L278.8,315.8 L279.4,317.9 L280.0,320.0 L280.6,322.1 L281.2,324.2 L281.8,326.2 L282.4,328.3 L282.9,330.4 L283.4,332.5 L283.9,334.6 L284.4,336.7 L284.8,338.7 L285.3,340.8 L285.7,342.9 L286.1,345.0 L286.5,347.1 L286.8,349.1 L287.2,351.1 L287.5,353.2 L287.8,355.3 L288.1,357.5 L288.5,360.0 L288.8,362.6 L289.2,365.2 L289.5,367.9 L289.8,370.6 L290.1,373.5 L290.5,377.1 L290.9,380.8 L291.3,384.6 L291.6,388.6 L292.0,392.5 L292.4,396.5 L292.8,400.8 L293.2,405.2 L293.6,409.6 L294.0,414.1 L294.4,418.6 L294.8,423.0 L295.2,427.5 L295.6,431.9 L296.1,436.3 L296.5,440.7 L296.8,445.2 L297.1,449.6 L297.4,454.0 L297.7,458.5 L297.9,462.9 L298.1,467.3 L298.3,471.7 L298.5,476.2 L298.6,480.6 L298.7,485.1 L298.8,489.5 L298.9,494.0 L299.0,498.4 L299.0,502.9 L299.1,507.4 L299.1,511.9 L299.1,516.4 L299.2,521.0 L299.2,525.5 L299.2,530.0 L295.8,530.0 L295.6,525.5 L295.5,521.0 L295.4,516.4 L295.2,511.9 L295.0,507.4 L294.9,502.9 L294.6,498.4 L294.4,494.0 L294.2,489.5 L293.9,485.1 L293.6,480.6 L293.4,476.2 L293.1,471.7 L292.8,467.3 L292.5,462.9 L292.2,458.5 L291.9,454.0 L291.5,449.6 L291.2,445.2 L290.9,440.7 L290.5,436.3 L290.1,431.9 L289.7,427.5 L289.4,423.0 L289.0,418.6 L288.7,414.1 L288.3,409.6 L287.9,405.2 L287.6,400.8 L287.2,396.5 L286.9,392.5 L286.5,388.6 L286.2,384.6 L285.8,380.8 L285.4,377.1 L285.0,373.5 L284.6,370.6 L284.2,367.9 L283.8,365.2 L283.4,362.6 L282.9,360.0 L282.4,357.5 L281.9,355.3 L281.5,353.2 L281.0,351.1 L280.4,349.1 L279.9,347.1 L279.4,345.0 L278.9,342.9 L278.3,340.8 L277.8,338.7 L277.2,336.7 L276.7,334.6 L276.1,332.5 L275.5,330.4 L274.9,328.3 L274.2,326.2 L273.6,324.2 L272.9,322.1 L272.2,320.0 L271.5,317.9 L270.7,315.8 L269.9,313.7 L269.1,311.7 L268.3,309.6 L267.5,307.5 L266.7,305.4 L265.9,303.3 L265.0,301.2 L264.2,299.2 L263.4,297.1 L262.5,295.0 L261.6,292.9 L260.8,290.8 L259.9,288.8 L259.0,286.7 L258.1,284.6 L257.2,282.5 L256.2,280.3 L255.2,278.1 L254.2,276.0 L253.1,273.8 L252.0,271.6 L250.9,269.4 L249.8,267.1 L248.5,264.7 L247.3,262.4 L246.0,260.1 L244.8,257.8 L243.4,255.5 L242.1,253.2 L240.7,251.0 L239.3,248.7 L237.9,246.5 L236.4,244.3 L235.0,242.1 L233.7,240.2 L232.3,238.2 L231.0,236.3 L229.7,234.5 L228.3,232.6 L226.9,230.9 L225.5,229.3 L224.1,227.7 L222.7,226.2 L221.3,224.7 L219.8,223.2 L218.3,221.6 L216.4,219.7 L214.4,217.8 L212.3,215.8 L210.1,213.9 L208.0,211.8 L205.8,209.8 L203.2,207.3 L200.5,204.8 L197.8,202.2 L195.0,199.6 L192.2,197.0 L189.4,194.5 L186.6,192.1 L183.7,189.8 L180.7,187.5 L177.8,185.3 L174.9,183.1 L172.0,181.1 L169.4,179.3 L166.8,177.6 L164.2,176.0 L161.7,174.5 L159.2,173.0 L156.9,171.5 L154.9,170.3 L153.0,169.2 L151.2,168.1 L149.4,167.0 L147.7,165.9 L146.0,164.6 L144.5,163.2 L143.0,161.8 L141.6,160.4 L140.3,158.8 L139.0,157.2 L137.8,155.5 L136.5,153.3 L135.2,151.0 L134.0,148.6 L132.9,146.1 L131.9,143.6 L130.9,141.1 L129.9,138.8 L129.0,136.4 L128.2,134.0 L127.4,131.6 L126.7,129.3 L126.0,127.2 L125.4,125.5 L124.9,124.0 L124.4,122.5 L124.0,121.0 L123.5,119.5 L123.0,118.0Z" fill="#f0e11e" opacity="1" stroke="#f0e11e" stroke-width="1.2" stroke-linejoin="round"/>
<path d="M262.7,296.3h2.4v5.3h-2.4zM257.1,283.1h2.4v3.7h-2.4zM256.2,280.9h2.4v6.9h-2.4zM255.2,278.7h2.4v4.5h-2.4zM247.8,263.6h2.4v7.6h-2.4zM240.8,251.0h2.4v4.0h-2.4zM238.2,246.9h2.4v4.2h-2.4zM237.0,244.9h2.4v6.8h-2.4zM235.6,242.9h2.4v3.9h-2.4zM233.0,238.9h2.4v7.0h-2.4zM231.6,236.9h2.4v8.3h-2.4zM230.3,235.0h2.4v3.8h-2.4zM222.8,225.6h2.4v7.5h-2.4zM221.2,223.8h2.4v4.8h-2.4zM216.1,218.7h2.4v6.5h-2.4zM214.4,217.0h2.4v4.8h-2.4zM212.7,215.3h2.4v5.2h-2.4zM210.9,213.7h2.4v7.9h-2.4zM205.6,208.8h2.4v4.7h-2.4zM203.9,207.2h2.4v4.8h-2.4zM198.7,202.2h2.4v8.0h-2.4zM191.7,195.6h2.4v4.0h-2.4zM189.9,194.0h2.4v3.7h-2.4zM186.2,190.9h2.4v6.4h-2.4zM171.0,179.2h2.4v8.5h-2.4zM169.0,177.8h2.4v3.7h-2.4zM167.0,176.5h2.4v7.2h-2.4zM160.9,172.7h2.4v4.7h-2.4zM156.8,170.2h2.4v4.8h-2.4zM152.7,167.7h2.4v4.3h-2.4zM148.6,165.3h2.4v7.7h-2.4zM144.7,162.5h2.4v5.2h-2.4zM139.6,157.4h2.4v4.6h-2.4zM138.1,155.5h2.4v5.8h-2.4zM131.2,142.9h2.4v5.4h-2.4zM127.7,134.0h2.4v3.9h-2.4zM126.2,129.5h2.4v4.6h-2.4zM123.2,120.3h2.4v3.5h-2.4z" fill="#f0e11e" opacity="1"/>
<path d="M123.9,93.7h2.4v3.7h-2.4zM124.5,92.1h2.4v7.6h-2.4zM129.1,110.6h2.4v5.3h-2.4zM129.9,112.8h2.4v5.3h-2.4zM130.6,113.2h2.4v7.2h-2.4zM133.9,121.0h2.4v8.5h-2.4zM135.7,125.5h2.4v8.4h-2.4zM142.2,143.2h2.4v3.5h-2.4zM146.5,146.1h2.4v6.4h-2.4zM163.1,158.3h2.4v7.9h-2.4zM165.1,160.1h2.4v7.3h-2.4zM167.2,165.0h2.4v3.8h-2.4zM173.1,166.4h2.4v6.4h-2.4zM175.1,167.7h2.4v6.5h-2.4zM177.0,171.0h2.4v4.6h-2.4zM179.0,171.4h2.4v5.6h-2.4zM180.9,172.9h2.4v5.4h-2.4zM186.7,176.0h2.4v6.6h-2.4zM188.6,176.5h2.4v7.6h-2.4zM190.5,180.4h2.4v5.2h-2.4zM192.4,179.7h2.4v7.3h-2.4zM194.3,184.8h2.4v3.8h-2.4zM207.2,195.6h2.4v3.6h-2.4zM216.3,201.0h2.4v6.2h-2.4zM231.0,217.3h2.4v5.6h-2.4zM245.4,241.2h2.4v3.8h-2.4zM247.9,245.5h2.4v3.7h-2.4zM249.2,244.1h2.4v7.0h-2.4zM251.8,251.7h2.4v3.5h-2.4zM253.1,251.3h2.4v5.9h-2.4zM254.3,255.3h2.4v4.0h-2.4zM257.8,258.3h2.4v7.3h-2.4zM258.9,263.0h2.4v4.7h-2.4zM263.0,272.0h2.4v4.4h-2.4zM264.8,276.3h2.4v4.6h-2.4zM265.7,279.2h2.4v3.9h-2.4z" fill="#f0e11e" opacity="1"/>
<rect x="690" y="410" width="18" height="16" fill="#fff" opacity="0.45"/>
<rect x="690" y="434" width="18" height="20" fill="#fff" opacity="0.45"/>
<rect x="690" y="454" width="18" height="26" fill="#fff" opacity="0.3"/>
<rect x="690" y="486" width="18" height="15" fill="#fff" opacity="0.3"/>
<rect x="690" y="517" width="18" height="13" fill="#fff" opacity="0.3"/>
<rect x="716" y="410" width="17" height="26" fill="#fff" opacity="0.4"/>
<rect x="716" y="447" width="17" height="31" fill="#fff" opacity="0.4"/>
<rect x="716" y="478" width="17" height="34" fill="#fff" opacity="0.5"/>
<rect x="738" y="410" width="14.600000000000023" height="19.5" fill="#fff" opacity="0.45"/>
<rect x="738" y="429.5" width="14.600000000000023" height="55.5" fill="#fff" opacity="0.25"/>
<rect x="738" y="485" width="14.600000000000023" height="55" fill="#fff" opacity="0.4"/>
<rect x="752.6" y="441" width="13.399999999999977" height="40.60000000000002" fill="#fff" opacity="0.4"/>
<rect x="752.6" y="502.7" width="13.399999999999977" height="37.30000000000001" fill="#fff" opacity="0.25"/>
<rect x="782" y="380" width="16" height="101.60000000000002" fill="#fff" opacity="0.3"/>
<rect x="782" y="490" width="16" height="50" fill="#fff" opacity="0.35"/>
<rect x="808" y="361" width="17" height="145" fill="#fff" opacity="0.35"/>
<rect x="808" y="524" width="17" height="21" fill="#fff" opacity="0.35"/>
<rect x="298.5" y="382" width="3.5" height="58" fill="#f0e11e" opacity="0.6"/>
</g>
<rect x="122.8" y="16.0" width="756.0" height="572.5" fill="none" stroke="#6a6a6a" stroke-width="2.6"/>
<rect x="639.5" y="24.5" width="214" height="56.5" fill="#fff" stroke="#2e2e2e" stroke-width="3"/>
<text x="670" y="64.6" font-family="Liberation Sans" font-size="42.2" fill="#333">Capacity</text>
<rect x="306.5" y="284" width="381.5" height="296" fill="#fff" stroke="#262626" stroke-width="3"/>
<line x1="313.5" y1="301.7" x2="365.5" y2="301.7" stroke="#e0505a" stroke-width="3.3"/>
<text x="374.9" y="317.3" font-family="Liberation Sans" font-size="29.3" fill="#333">Zero cycles</text>
<line x1="313.5" y1="346.2" x2="365.5" y2="346.2" stroke="#82c070" stroke-width="5"/>
<text x="375.5" y="358.1" font-family="Liberation Sans" font-size="29.3" fill="#333">9k cycles (4.1 kAh)</text>
<line x1="313.5" y1="387.4" x2="365.5" y2="387.4" stroke="#4e5cae" stroke-width="4"/>
<text x="374.9" y="400.4" font-family="Liberation Sans" font-size="29.3" fill="#333">15k cycles (6.9 kAh)</text>
<line x1="313.5" y1="433.0" x2="365.5" y2="433.0" stroke="#7ccbe0" stroke-width="4.5"/>
<text x="374.9" y="444.3" font-family="Liberation Sans" font-size="29.3" fill="#333">19.5k cycles (9.0 kAh)</text>
<line x1="313.5" y1="475.3" x2="365.5" y2="475.3" stroke="#c87cc0" stroke-width="6"/>
<text x="378.2" y="486.2" font-family="Liberation Sans" font-size="29.3" fill="#333">24k cycles (11 kAh)</text>
<line x1="313.5" y1="512.2" x2="365.5" y2="512.2" stroke="#848484" stroke-width="5"/>
<text x="377" y="527.4" font-family="Liberation Sans" font-size="29.3" fill="#333">29.5k cycles (13.5 kAh)</text>
<line x1="313.5" y1="556.7" x2="365.5" y2="556.7" stroke="#f2e47a" stroke-width="5.5"/>
<text x="376" y="566.4" font-family="Liberation Sans" font-size="29.3" fill="#333">EOL</text>
<text x="116.8" y="25.2" font-family="Liberation Sans" font-size="38.5" fill="#333" text-anchor="end">3.6</text>
<text x="116.8" y="87.2" font-family="Liberation Sans" font-size="38.5" fill="#333" text-anchor="end">3.4</text>
<text x="116.8" y="152.3" font-family="Liberation Sans" font-size="38.5" fill="#333" text-anchor="end">3.2</text>
<text x="116.8" y="216.3" font-family="Liberation Sans" font-size="38.5" fill="#333" text-anchor="end">3.0</text>
<text x="116.8" y="280.1" font-family="Liberation Sans" font-size="38.5" fill="#333" text-anchor="end">2.8</text>
<text x="116.8" y="342.5" font-family="Liberation Sans" font-size="38.5" fill="#333" text-anchor="end">2.6</text>
<text x="116.8" y="404.8" font-family="Liberation Sans" font-size="38.5" fill="#333" text-anchor="end">2.4</text>
<text x="116.8" y="470.2" font-family="Liberation Sans" font-size="38.5" fill="#333" text-anchor="end">2.2</text>
<text x="116.8" y="534.0" font-family="Liberation Sans" font-size="38.5" fill="#333" text-anchor="end">2.0</text>
<text x="116.8" y="600.3" font-family="Liberation Sans" font-size="38.5" fill="#333" text-anchor="end">1.8</text>
<text x="128.8" y="628" font-family="Liberation Sans" font-size="38" fill="#333" text-anchor="middle">0</text>
<text x="310.9" y="628" font-family="Liberation Sans" font-size="38" fill="#333" text-anchor="middle">1000</text>
<text x="500.3" y="628" font-family="Liberation Sans" font-size="38" fill="#333" text-anchor="middle">2000</text>
<text x="690.9" y="628" font-family="Liberation Sans" font-size="38" fill="#333" text-anchor="middle">3000</text>
<text x="872.1" y="628" font-family="Liberation Sans" font-size="38" fill="#333" text-anchor="middle">4000</text>
<text x="421.7" y="666.8" font-family="Liberation Sans" font-size="42.2" fill="#333">Time (s)</text>
<text x="466" y="708" font-family="Liberation Sans" font-size="46" fill="#333">(a)</text>
<text transform="translate(50.4,424) rotate(-90)" x="0" y="0" font-family="Liberation Sans" font-size="42.8" fill="#333">Voltage (V)</text>
<g id="bottom">
<line x1="218.9" y1="756.7" x2="218.9" y2="1133.2" stroke="#3a3a3a" stroke-width="2" stroke-dasharray="5 3.7"/>
<line x1="218.9" y1="1133.2" x2="218.9" y2="1122.2" stroke="#262626" stroke-width="2.4"/>
<line x1="218.9" y1="756.7" x2="218.9" y2="767.7" stroke="#262626" stroke-width="2.4"/>
<line x1="343.3" y1="756.7" x2="343.3" y2="1133.2" stroke="#3a3a3a" stroke-width="2" stroke-dasharray="5 3.7"/>
<line x1="343.3" y1="1133.2" x2="343.3" y2="1122.2" stroke="#262626" stroke-width="2.4"/>
<line x1="343.3" y1="756.7" x2="343.3" y2="767.7" stroke="#262626" stroke-width="2.4"/>
<line x1="468.0" y1="756.7" x2="468.0" y2="1133.2" stroke="#3a3a3a" stroke-width="2" stroke-dasharray="5 3.7"/>
<line x1="468.0" y1="1133.2" x2="468.0" y2="1122.2" stroke="#262626" stroke-width="2.4"/>
<line x1="468.0" y1="756.7" x2="468.0" y2="767.7" stroke="#262626" stroke-width="2.4"/>
<line x1="591.7" y1="756.7" x2="591.7" y2="1133.2" stroke="#3a3a3a" stroke-width="2" stroke-dasharray="5 3.7"/>
<line x1="591.7" y1="1133.2" x2="591.7" y2="1122.2" stroke="#262626" stroke-width="2.4"/>
<line x1="591.7" y1="756.7" x2="591.7" y2="767.7" stroke="#262626" stroke-width="2.4"/>
<line x1="714.4" y1="756.7" x2="714.4" y2="1133.2" stroke="#3a3a3a" stroke-width="2" stroke-dasharray="5 3.7"/>
<line x1="714.4" y1="1133.2" x2="714.4" y2="1122.2" stroke="#262626" stroke-width="2.4"/>
<line x1="714.4" y1="756.7" x2="714.4" y2="767.7" stroke="#262626" stroke-width="2.4"/>
<line x1="838.9" y1="756.7" x2="838.9" y2="1133.2" stroke="#3a3a3a" stroke-width="2" stroke-dasharray="5 3.7"/>
<line x1="838.9" y1="1133.2" x2="838.9" y2="1122.2" stroke="#262626" stroke-width="2.4"/>
<line x1="838.9" y1="756.7" x2="838.9" y2="767.7" stroke="#262626" stroke-width="2.4"/>
<line x1="112.1" y1="793.3" x2="912.0" y2="793.3" stroke="#3a3a3a" stroke-width="2" stroke-dasharray="5 3.7" stroke-dashoffset="1.8"/>
<line x1="112.1" y1="793.3" x2="123.1" y2="793.3" stroke="#262626" stroke-width="2.4"/>
<line x1="912.0" y1="793.3" x2="901.0" y2="793.3" stroke="#262626" stroke-width="2.4"/>
<line x1="112.1" y1="869.9" x2="912.0" y2="869.9" stroke="#3a3a3a" stroke-width="2" stroke-dasharray="5 3.7" stroke-dashoffset="1.8"/>
<line x1="112.1" y1="869.9" x2="123.1" y2="869.9" stroke="#262626" stroke-width="2.4"/>
<line x1="912.0" y1="869.9" x2="901.0" y2="869.9" stroke="#262626" stroke-width="2.4"/>
<line x1="112.1" y1="945.6" x2="912.0" y2="945.6" stroke="#3a3a3a" stroke-width="2" stroke-dasharray="5 3.7" stroke-dashoffset="1.8"/>
<line x1="112.1" y1="945.6" x2="123.1" y2="945.6" stroke="#262626" stroke-width="2.4"/>
<line x1="912.0" y1="945.6" x2="901.0" y2="945.6" stroke="#262626" stroke-width="2.4"/>
<line x1="112.1" y1="1019.8" x2="912.0" y2="1019.8" stroke="#3a3a3a" stroke-width="2" stroke-dasharray="5 3.7" stroke-dashoffset="1.8"/>
<line x1="112.1" y1="1019.8" x2="123.1" y2="1019.8" stroke="#262626" stroke-width="2.4"/>
<line x1="912.0" y1="1019.8" x2="901.0" y2="1019.8" stroke="#262626" stroke-width="2.4"/>
<line x1="112.1" y1="1094.9" x2="912.0" y2="1094.9" stroke="#3a3a3a" stroke-width="2" stroke-dasharray="5 3.7" stroke-dashoffset="1.8"/>
<line x1="112.1" y1="1094.9" x2="123.1" y2="1094.9" stroke="#262626" stroke-width="2.4"/>
<line x1="912.0" y1="1094.9" x2="901.0" y2="1094.9" stroke="#262626" stroke-width="2.4"/>
<rect x="112.1" y="756.7" width="799.9" height="376.5" fill="none" stroke="#262626" stroke-width="3"/>
<path d="M121.3,1033.0l4,4l-4,4l-4,-4zM133.1,1041.7l4,4l-4,4l-4,-4zM145.8,1028.8l4,4l-4,4l-4,-4zM158.8,1031.6l4,4l-4,4l-4,-4zM170.1,1034.7l4,4l-4,4l-4,-4zM183.3,1024.5l4,4l-4,4l-4,-4zM194.9,1024.2l4,4l-4,4l-4,-4zM207.9,1017.2l4,4l-4,4l-4,-4zM219.4,1017.2l4,4l-4,4l-4,-4zM232.1,1026.0l4,4l-4,4l-4,-4zM245.4,1001.7l4,4l-4,4l-4,-4zM256.6,992.9l4,4l-4,4l-4,-4zM269.9,976.9l4,4l-4,4l-4,-4zM281.5,974.3l4,4l-4,4l-4,-4zM306.0,980.0l4,4l-4,4l-4,-4zM318.7,992.9l4,4l-4,4l-4,-4zM331.9,961.1l4,4l-4,4l-4,-4zM343.5,971.5l4,4l-4,4l-4,-4zM356.2,1010.0l4,4l-4,4l-4,-4zM368.0,1004.3l4,4l-4,4l-4,-4zM381.6,993.0l4,4l-4,4l-4,-4zM392.9,1005.9l4,4l-4,4l-4,-4zM405.8,1003.1l4,4l-4,4l-4,-4zM418.5,987.0l4,4l-4,4l-4,-4zM430.4,981.1l4,4l-4,4l-4,-4zM443.1,965.3l4,4l-4,4l-4,-4zM454.9,962.8l4,4l-4,4l-4,-4zM468.4,978.9l4,4l-4,4l-4,-4zM493.8,998.6l4,4l-4,4l-4,-4zM505.1,989.9l4,4l-4,4l-4,-4zM518.4,974.4l4,4l-4,4l-4,-4zM529.9,971.3l4,4l-4,4l-4,-4zM554.7,977.2l4,4l-4,4l-4,-4zM567.1,989.9l4,4l-4,4l-4,-4zM580.4,958.0l4,4l-4,4l-4,-4zM592.0,1063.5l4,4l-4,4l-4,-4zM603.8,992.9l4,4l-4,4l-4,-4zM616.3,970.2l4,4l-4,4l-4,-4zM627.8,970.2l4,4l-4,4l-4,-4zM641.1,961.1l4,4l-4,4l-4,-4zM653.0,942.4l4,4l-4,4l-4,-4zM665.6,935.2l4,4l-4,4l-4,-4zM678.9,966.9l4,4l-4,4l-4,-4zM690.1,948.5l4,4l-4,4l-4,-4zM702.7,938.8l4,4l-4,4l-4,-4zM714.6,937.0l4,4l-4,4l-4,-4zM727.6,917.9l4,4l-4,4l-4,-4zM739.4,945.3l4,4l-4,4l-4,-4zM752.0,938.1l4,4l-4,4l-4,-4zM765.4,942.4l4,4l-4,4l-4,-4zM776.5,938.1l4,4l-4,4l-4,-4zM789.9,923.3l4,4l-4,4l-4,-4zM801.7,926.6l4,4l-4,4l-4,-4zM814.3,937.0l4,4l-4,4l-4,-4zM825.9,921.9l4,4l-4,4l-4,-4zM838.5,908.2l4,4l-4,4l-4,-4zM852.2,912.2l4,4l-4,4l-4,-4zM863.7,890.2l4,4l-4,4l-4,-4zM877.0,900.3l4,4l-4,4l-4,-4zM888.2,906.4l4,4l-4,4l-4,-4zM901.1,884.8l4,4l-4,4l-4,-4zM912.6,884.1l4,4l-4,4l-4,-4z" fill="#3c4799"/>
</g>
<rect x="651.6" y="766.8" width="252" height="47.4" fill="#fff" stroke="#262626" stroke-width="3"/>
<text x="680" y="801.2" font-family="Liberation Sans" font-size="39" fill="#333" textLength="209" lengthAdjust="spacingAndGlyphs">Resistance</text>
<text x="53.599999999999994" y="804.3" font-family="Liberation Sans" font-size="38" fill="#333">9.4</text>
<text x="55.3" y="880.5" font-family="Liberation Sans" font-size="38" fill="#333">9.2</text>
<text x="53.5" y="953.8" font-family="Liberation Sans" font-size="38" fill="#333">9.0</text>
<text x="54.2" y="1026" font-family="Liberation Sans" font-size="38" fill="#333">8.8</text>
<text x="54.2" y="1102.5" font-family="Liberation Sans" font-size="38" fill="#333">8.6</text>
<text x="216.4" y="1169.5" font-family="Liberation Sans" font-size="35" fill="#333" text-anchor="middle">1</text>
<text x="343" y="1169.5" font-family="Liberation Sans" font-size="35" fill="#333" text-anchor="middle">2</text>
<text x="469" y="1169.5" font-family="Liberation Sans" font-size="35" fill="#333" text-anchor="middle">3</text>
<text x="592.5" y="1169.5" font-family="Liberation Sans" font-size="35" fill="#333" text-anchor="middle">4</text>
<text x="714.8" y="1169.5" font-family="Liberation Sans" font-size="35" fill="#333" text-anchor="middle">5</text>
<text x="839.4" y="1169.5" font-family="Liberation Sans" font-size="35" fill="#333" text-anchor="middle">6</text>
<text x="393.6" y="1210.7" font-family="Liberation Sans" font-size="41.5" fill="#333">Cycles (x 1000)</text>
<text x="467.5" y="1270.4" font-family="Liberation Sans" font-size="47.5" fill="#333">(b)</text>
<text transform="translate(31.8,1139.5) rotate(-90)" font-family="Liberation Sans" font-size="41.8" fill="#333">Resistance(x 10<tspan font-size="25" dy="-15">-3</tspan><tspan dy="15">) (Ω)</tspan></text></svg></body></html>
